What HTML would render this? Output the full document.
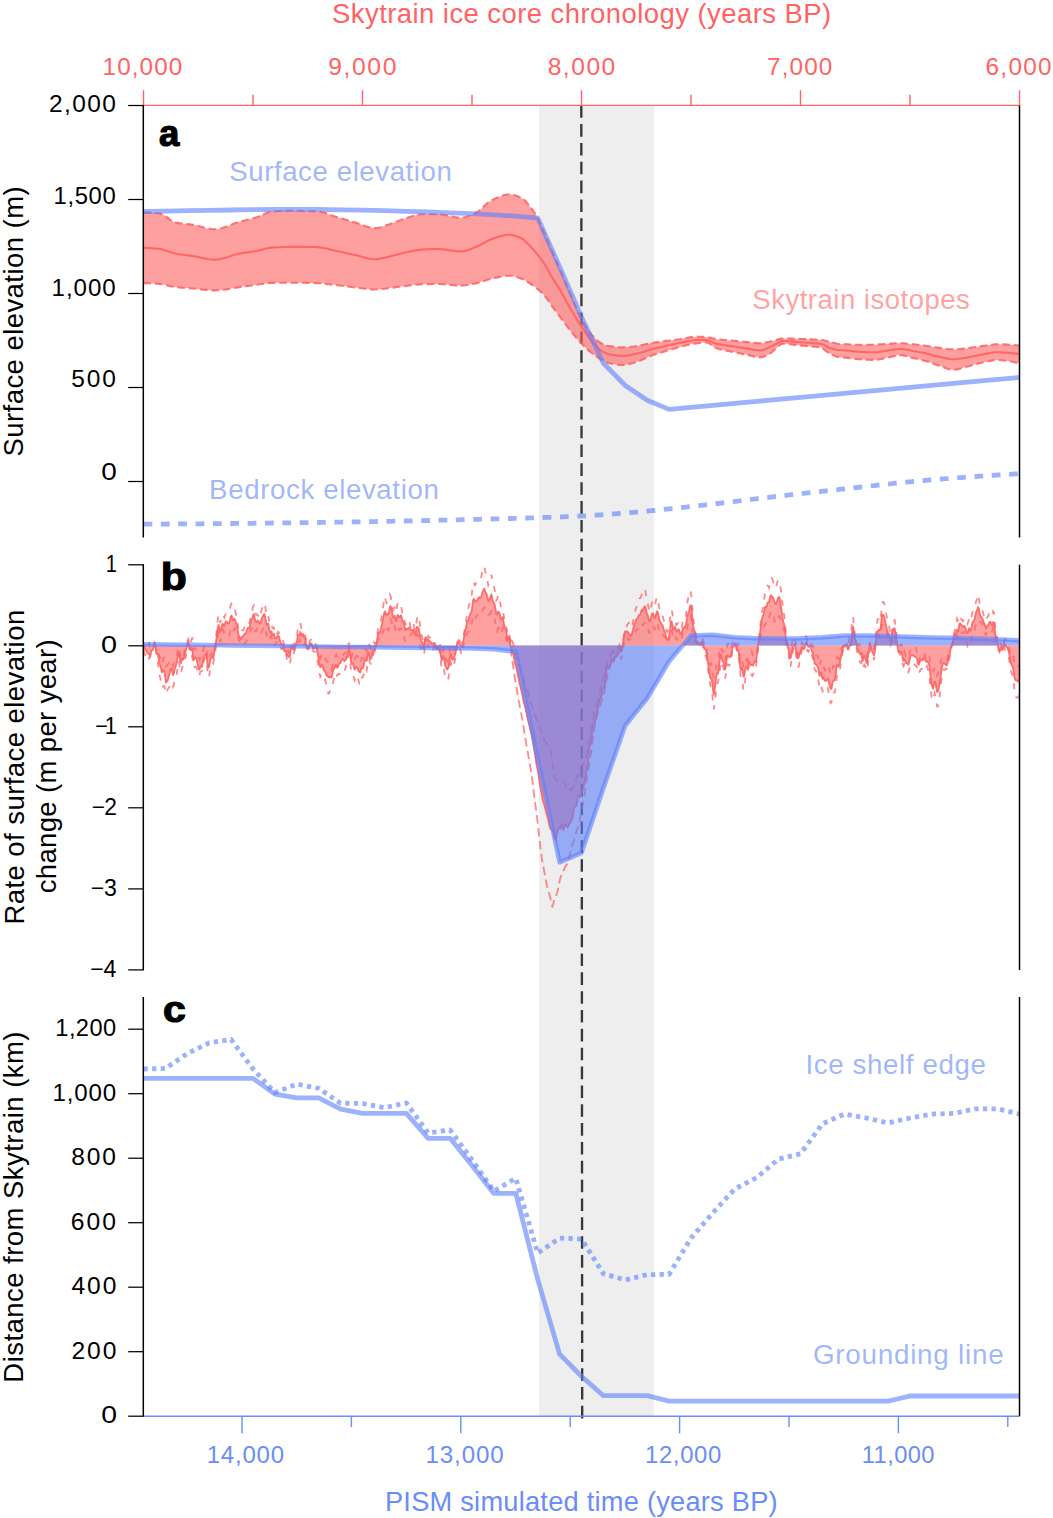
<!DOCTYPE html>
<html lang="en"><head><meta charset="utf-8"><title>Skytrain ice core chronology</title>
<style>html,body{margin:0;padding:0;background:#fff}svg{display:block;font-family:"Liberation Sans",sans-serif}</style></head>
<body><svg width="1053" height="1518" viewBox="0 0 1053 1518">
<rect x="0" y="0" width="1053" height="1518" fill="#fff"/>
<rect x="539.1" y="105.5" width="114.7" height="1310.7" fill="#eeeeee"/>
<line x1="581.3" y1="105.2" x2="582.2" y2="1418.8" stroke="#383838" stroke-width="2.35" stroke-dasharray="12.6 6.25"/>
<polygon points="143.5,212.5 145.5,212.5 147.5,212.6 149.5,212.6 151.5,212.8 153.5,212.9 155.5,213.1 157.5,213.2 159.5,213.4 161.5,213.9 163.5,214.8 165.5,216.2 167.5,217.7 169.5,219.3 171.5,220.8 173.5,221.9 175.5,222.5 177.5,222.9 179.5,223.2 181.5,223.5 183.5,223.7 185.5,223.9 187.5,224.1 189.5,224.3 191.5,224.6 193.5,224.9 195.5,225.3 197.5,225.7 199.5,226.3 201.5,226.8 203.5,227.4 205.5,227.9 207.5,228.4 209.5,228.7 211.5,229.0 213.5,229.2 215.5,229.2 217.5,229.0 219.5,228.7 221.5,228.2 223.5,227.6 225.5,226.9 227.5,226.2 229.5,225.4 231.5,224.6 233.5,223.8 235.5,223.1 237.5,222.4 239.5,221.7 241.5,221.2 243.5,220.7 245.5,220.2 247.5,219.7 249.5,219.3 251.5,218.8 253.5,218.2 255.5,217.6 257.5,216.9 259.5,216.1 261.5,215.2 263.5,214.3 265.5,213.4 267.5,212.6 269.5,212.0 271.5,211.7 273.5,211.5 275.5,211.3 277.5,211.2 279.5,211.0 281.5,210.9 283.5,210.8 285.5,210.8 287.5,210.7 289.5,210.7 291.5,210.7 293.5,210.7 295.5,210.8 297.5,210.8 299.5,210.9 301.5,210.9 303.5,211.0 305.5,211.1 307.5,211.2 309.5,211.2 311.5,211.3 313.5,211.4 315.5,211.5 317.5,211.7 319.5,211.8 321.5,212.1 323.5,212.5 325.5,213.0 327.5,213.7 329.5,214.5 331.5,215.3 333.5,216.0 335.5,216.7 337.5,217.3 339.5,217.9 341.5,218.5 343.5,219.1 345.5,219.7 347.5,220.3 349.5,220.9 351.5,221.5 353.5,222.1 355.5,222.6 357.5,223.3 359.5,224.0 361.5,224.7 363.5,225.5 365.5,226.2 367.5,226.8 369.5,227.4 371.5,227.8 373.5,228.0 375.5,228.1 377.5,227.9 379.5,227.5 381.5,227.0 383.5,226.3 385.5,225.6 387.5,224.8 389.5,224.2 391.5,223.5 393.5,222.8 395.5,222.0 397.5,221.2 399.5,220.4 401.5,219.7 403.5,219.0 405.5,218.4 407.5,217.7 409.5,217.1 411.5,216.5 413.5,215.8 415.5,215.3 417.5,214.8 419.5,214.5 421.5,214.3 423.5,214.2 425.5,214.2 427.5,214.2 429.5,214.2 431.5,214.2 433.5,214.3 435.5,214.3 437.5,214.3 439.5,214.4 441.5,214.5 443.5,214.8 445.5,215.2 447.5,215.6 449.5,216.1 451.5,216.5 453.5,216.9 455.5,217.2 457.5,217.5 459.5,217.7 461.5,217.7 463.5,217.5 465.5,217.0 467.5,216.4 469.5,215.7 471.5,214.8 473.5,213.9 475.5,212.9 477.5,211.9 479.5,210.4 481.5,208.6 483.5,206.7 485.5,204.8 487.5,203.0 489.5,201.5 491.5,200.4 493.5,199.4 495.5,198.4 497.5,197.5 499.5,196.7 501.5,195.9 503.5,195.3 505.5,194.8 507.5,194.5 509.5,194.4 511.5,194.5 513.5,194.9 515.5,195.5 517.5,196.2 519.5,197.0 521.5,198.0 523.5,199.2 525.5,201.1 527.5,203.4 529.5,205.9 531.5,208.4 533.5,211.2 535.5,214.4 537.5,217.9 539.5,222.1 541.5,226.7 543.5,231.5 545.5,236.1 547.5,240.7 549.5,245.3 551.5,249.8 553.5,254.5 555.5,259.1 557.5,263.7 559.5,268.4 561.5,273.1 563.5,277.8 565.5,282.5 567.5,287.2 569.5,291.8 571.5,296.5 573.5,301.3 575.5,306.1 577.5,310.7 579.5,315.1 581.5,319.0 583.5,322.6 585.5,326.1 587.5,329.3 589.5,332.2 591.5,334.7 593.5,336.8 595.5,338.8 597.5,340.6 599.5,342.2 601.5,343.5 603.5,344.4 605.5,345.1 607.5,345.7 609.5,346.1 611.5,346.4 613.5,346.7 615.5,346.9 617.5,347.1 619.5,347.3 621.5,347.4 623.5,347.4 625.5,347.3 627.5,347.1 629.5,347.0 631.5,346.7 633.5,346.5 635.5,346.2 637.5,345.8 639.5,345.4 641.5,345.1 643.5,344.7 645.5,344.3 647.5,343.9 649.5,343.5 651.5,343.1 653.5,342.8 655.5,342.4 657.5,342.0 659.5,341.7 661.5,341.4 663.5,341.2 665.5,340.9 667.5,340.7 669.5,340.5 671.5,340.2 673.5,340.0 675.5,339.7 677.5,339.5 679.5,339.2 681.5,338.8 683.5,338.4 685.5,338.0 687.5,337.7 689.5,337.4 691.5,337.1 693.5,336.9 695.5,336.7 697.5,336.7 699.5,336.7 701.5,336.8 703.5,336.9 705.5,337.0 707.5,337.2 709.5,337.6 711.5,338.0 713.5,338.5 715.5,338.9 717.5,339.2 719.5,339.4 721.5,339.7 723.5,339.9 725.5,340.0 727.5,340.2 729.5,340.4 731.5,340.6 733.5,340.8 735.5,340.9 737.5,341.1 739.5,341.3 741.5,341.5 743.5,341.7 745.5,341.9 747.5,342.1 749.5,342.3 751.5,342.5 753.5,342.7 755.5,342.9 757.5,343.1 759.5,343.2 761.5,343.1 763.5,342.9 765.5,342.5 767.5,342.1 769.5,341.7 771.5,341.2 773.5,340.7 775.5,340.1 777.5,339.6 779.5,338.9 781.5,338.5 783.5,338.4 785.5,338.4 787.5,338.5 789.5,338.5 791.5,338.6 793.5,338.7 795.5,338.8 797.5,338.8 799.5,338.9 801.5,339.0 803.5,339.1 805.5,339.1 807.5,339.2 809.5,339.3 811.5,339.4 813.5,339.5 815.5,339.6 817.5,339.7 819.5,339.8 821.5,340.0 823.5,340.3 825.5,340.8 827.5,341.2 829.5,341.7 831.5,342.2 833.5,342.7 835.5,343.3 837.5,343.7 839.5,344.0 841.5,344.1 843.5,344.2 845.5,344.3 847.5,344.4 849.5,344.5 851.5,344.6 853.5,344.7 855.5,344.7 857.5,344.8 859.5,344.8 861.5,344.8 863.5,344.8 865.5,344.8 867.5,344.8 869.5,344.7 871.5,344.7 873.5,344.7 875.5,344.7 877.5,344.6 879.5,344.4 881.5,344.3 883.5,344.1 885.5,344.0 887.5,343.8 889.5,343.7 891.5,343.6 893.5,343.5 895.5,343.3 897.5,343.3 899.5,343.2 901.5,343.2 903.5,343.3 905.5,343.5 907.5,343.7 909.5,343.9 911.5,344.2 913.5,344.3 915.5,344.5 917.5,344.7 919.5,345.0 921.5,345.2 923.5,345.4 925.5,345.7 927.5,346.0 929.5,346.3 931.5,346.6 933.5,347.0 935.5,347.3 937.5,347.6 939.5,347.9 941.5,348.2 943.5,348.5 945.5,348.7 947.5,349.0 949.5,349.2 951.5,349.3 953.5,349.4 955.5,349.4 957.5,349.2 959.5,349.1 961.5,348.9 963.5,348.6 965.5,348.4 967.5,348.2 969.5,347.9 971.5,347.6 973.5,347.3 975.5,347.0 977.5,346.7 979.5,346.4 981.5,346.1 983.5,345.8 985.5,345.6 987.5,345.3 989.5,345.0 991.5,344.7 993.5,344.5 995.5,344.3 997.5,344.3 999.5,344.3 1001.5,344.4 1003.5,344.4 1005.5,344.5 1007.5,344.6 1009.5,344.7 1011.5,344.8 1013.5,345.0 1015.5,345.2 1017.5,345.4 1019.5,345.6 1019.5,363.3 1017.5,362.8 1015.5,362.4 1013.5,361.9 1011.5,361.5 1009.5,361.2 1007.5,360.9 1005.5,360.7 1003.5,360.4 1001.5,360.2 999.5,360.0 997.5,359.9 995.5,360.0 993.5,360.2 991.5,360.6 989.5,361.0 987.5,361.5 985.5,361.9 983.5,362.3 981.5,362.8 979.5,363.3 977.5,363.8 975.5,364.3 973.5,364.8 971.5,365.4 969.5,366.0 967.5,366.6 965.5,367.1 963.5,367.6 961.5,368.2 959.5,368.8 957.5,369.3 955.5,369.7 953.5,369.8 951.5,369.7 949.5,369.3 947.5,368.7 945.5,368.0 943.5,367.2 941.5,366.5 939.5,365.8 937.5,365.2 935.5,364.5 933.5,363.7 931.5,363.0 929.5,362.2 927.5,361.6 925.5,360.9 923.5,360.4 921.5,359.9 919.5,359.4 917.5,359.0 915.5,358.6 913.5,358.1 911.5,357.7 909.5,357.1 907.5,356.5 905.5,355.9 903.5,355.4 901.5,355.2 899.5,355.1 897.5,355.3 895.5,355.7 893.5,356.2 891.5,356.7 889.5,357.2 887.5,357.6 885.5,358.0 883.5,358.4 881.5,358.9 879.5,359.3 877.5,359.6 875.5,359.8 873.5,359.9 871.5,359.9 869.5,359.8 867.5,359.7 865.5,359.6 863.5,359.5 861.5,359.4 859.5,359.3 857.5,359.1 855.5,358.9 853.5,358.6 851.5,358.4 849.5,358.1 847.5,357.9 845.5,357.6 843.5,357.5 841.5,357.4 839.5,357.2 837.5,356.8 835.5,356.2 833.5,355.4 831.5,354.5 829.5,353.5 827.5,352.2 825.5,350.6 823.5,349.0 821.5,347.8 819.5,347.3 817.5,347.0 815.5,346.8 813.5,346.6 811.5,346.4 809.5,346.2 807.5,346.1 805.5,345.9 803.5,345.8 801.5,345.6 799.5,345.4 797.5,345.1 795.5,344.9 793.5,344.6 791.5,344.4 789.5,344.1 787.5,343.9 785.5,343.8 783.5,343.7 781.5,343.9 779.5,345.2 777.5,347.1 775.5,348.9 773.5,350.7 771.5,352.5 769.5,353.9 767.5,354.9 765.5,355.9 763.5,356.7 761.5,357.2 759.5,357.4 757.5,357.2 755.5,356.8 753.5,356.4 751.5,355.8 749.5,355.4 747.5,355.0 745.5,354.6 743.5,354.1 741.5,353.7 739.5,353.3 737.5,352.8 735.5,352.4 733.5,352.0 731.5,351.6 729.5,351.2 727.5,350.9 725.5,350.5 723.5,350.1 721.5,349.7 719.5,349.2 717.5,348.6 715.5,347.9 713.5,346.7 711.5,345.1 709.5,343.5 707.5,342.5 705.5,342.4 703.5,342.5 701.5,342.7 699.5,342.9 697.5,343.1 695.5,343.4 693.5,343.7 691.5,344.1 689.5,344.5 687.5,345.0 685.5,345.5 683.5,346.0 681.5,346.5 679.5,347.1 677.5,347.6 675.5,348.2 673.5,348.8 671.5,349.4 669.5,350.0 667.5,350.6 665.5,351.2 663.5,351.8 661.5,352.5 659.5,353.1 657.5,353.6 655.5,354.2 653.5,354.8 651.5,355.6 649.5,356.4 647.5,357.3 645.5,358.2 643.5,359.1 641.5,360.0 639.5,360.8 637.5,361.5 635.5,362.2 633.5,362.8 631.5,363.4 629.5,363.9 627.5,364.3 625.5,364.7 623.5,365.0 621.5,365.0 619.5,364.9 617.5,364.7 615.5,364.4 613.5,364.1 611.5,363.7 609.5,363.2 607.5,362.5 605.5,361.6 603.5,360.7 601.5,359.7 599.5,358.6 597.5,357.2 595.5,355.8 593.5,354.3 591.5,352.8 589.5,351.1 587.5,349.4 585.5,347.6 583.5,345.6 581.5,343.6 579.5,341.5 577.5,339.2 575.5,336.8 573.5,334.4 571.5,331.9 569.5,329.4 567.5,326.8 565.5,324.2 563.5,321.6 561.5,318.9 559.5,316.2 557.5,313.5 555.5,310.8 553.5,308.1 551.5,305.3 549.5,302.3 547.5,299.3 545.5,296.6 543.5,294.4 541.5,292.4 539.5,290.6 537.5,288.9 535.5,287.3 533.5,285.8 531.5,284.5 529.5,283.2 527.5,281.9 525.5,280.7 523.5,279.6 521.5,278.8 519.5,278.0 517.5,277.3 515.5,276.7 513.5,276.2 511.5,275.8 509.5,275.7 507.5,275.8 505.5,275.9 503.5,276.2 501.5,276.5 499.5,276.9 497.5,277.4 495.5,277.8 493.5,278.3 491.5,278.7 489.5,279.2 487.5,279.8 485.5,280.4 483.5,281.1 481.5,281.8 479.5,282.4 477.5,283.0 475.5,283.4 473.5,283.8 471.5,284.2 469.5,284.6 467.5,285.0 465.5,285.3 463.5,285.5 461.5,285.6 459.5,285.6 457.5,285.5 455.5,285.4 453.5,285.2 451.5,285.0 449.5,284.8 447.5,284.6 445.5,284.4 443.5,284.2 441.5,284.1 439.5,284.0 437.5,284.0 435.5,284.0 433.5,284.0 431.5,284.0 429.5,284.1 427.5,284.1 425.5,284.1 423.5,284.2 421.5,284.3 419.5,284.4 417.5,284.5 415.5,284.7 413.5,285.0 411.5,285.2 409.5,285.4 407.5,285.7 405.5,285.9 403.5,286.2 401.5,286.4 399.5,286.7 397.5,287.0 395.5,287.3 393.5,287.6 391.5,287.8 389.5,288.1 387.5,288.3 385.5,288.6 383.5,288.8 381.5,289.1 379.5,289.3 377.5,289.4 375.5,289.5 373.5,289.5 371.5,289.4 369.5,289.2 367.5,289.0 365.5,288.8 363.5,288.5 361.5,288.3 359.5,288.0 357.5,287.7 355.5,287.5 353.5,287.2 351.5,287.0 349.5,286.8 347.5,286.5 345.5,286.3 343.5,286.0 341.5,285.8 339.5,285.5 337.5,285.3 335.5,285.1 333.5,284.8 331.5,284.6 329.5,284.3 327.5,284.1 325.5,283.8 323.5,283.6 321.5,283.4 319.5,283.3 317.5,283.2 315.5,283.1 313.5,283.0 311.5,283.0 309.5,282.9 307.5,282.9 305.5,282.8 303.5,282.8 301.5,282.8 299.5,282.8 297.5,282.7 295.5,282.7 293.5,282.7 291.5,282.7 289.5,282.7 287.5,282.7 285.5,282.7 283.5,282.7 281.5,282.7 279.5,282.8 277.5,282.8 275.5,282.8 273.5,282.9 271.5,282.9 269.5,283.0 267.5,283.2 265.5,283.4 263.5,283.7 261.5,284.0 259.5,284.3 257.5,284.7 255.5,284.9 253.5,285.2 251.5,285.5 249.5,285.7 247.5,286.0 245.5,286.3 243.5,286.5 241.5,286.8 239.5,287.1 237.5,287.4 235.5,287.7 233.5,288.0 231.5,288.4 229.5,288.7 227.5,289.1 225.5,289.4 223.5,289.7 221.5,290.0 219.5,290.2 217.5,290.3 215.5,290.4 213.5,290.4 211.5,290.3 209.5,290.2 207.5,290.1 205.5,289.9 203.5,289.7 201.5,289.4 199.5,289.2 197.5,289.0 195.5,288.7 193.5,288.5 191.5,288.4 189.5,288.2 187.5,288.1 185.5,287.9 183.5,287.8 181.5,287.6 179.5,287.5 177.5,287.3 175.5,287.1 173.5,286.8 171.5,286.4 169.5,285.9 167.5,285.4 165.5,285.0 163.5,284.5 161.5,284.2 159.5,284.0 157.5,283.8 155.5,283.6 153.5,283.5 151.5,283.4 149.5,283.3 147.5,283.2 145.5,283.1 143.5,283.1" fill="#ff6060" fill-opacity="0.6"/>
<polyline points="143.5,212.5 145.5,212.5 147.5,212.6 149.5,212.6 151.5,212.8 153.5,212.9 155.5,213.1 157.5,213.2 159.5,213.4 161.5,213.9 163.5,214.8 165.5,216.2 167.5,217.7 169.5,219.3 171.5,220.8 173.5,221.9 175.5,222.5 177.5,222.9 179.5,223.2 181.5,223.5 183.5,223.7 185.5,223.9 187.5,224.1 189.5,224.3 191.5,224.6 193.5,224.9 195.5,225.3 197.5,225.7 199.5,226.3 201.5,226.8 203.5,227.4 205.5,227.9 207.5,228.4 209.5,228.7 211.5,229.0 213.5,229.2 215.5,229.2 217.5,229.0 219.5,228.7 221.5,228.2 223.5,227.6 225.5,226.9 227.5,226.2 229.5,225.4 231.5,224.6 233.5,223.8 235.5,223.1 237.5,222.4 239.5,221.7 241.5,221.2 243.5,220.7 245.5,220.2 247.5,219.7 249.5,219.3 251.5,218.8 253.5,218.2 255.5,217.6 257.5,216.9 259.5,216.1 261.5,215.2 263.5,214.3 265.5,213.4 267.5,212.6 269.5,212.0 271.5,211.7 273.5,211.5 275.5,211.3 277.5,211.2 279.5,211.0 281.5,210.9 283.5,210.8 285.5,210.8 287.5,210.7 289.5,210.7 291.5,210.7 293.5,210.7 295.5,210.8 297.5,210.8 299.5,210.9 301.5,210.9 303.5,211.0 305.5,211.1 307.5,211.2 309.5,211.2 311.5,211.3 313.5,211.4 315.5,211.5 317.5,211.7 319.5,211.8 321.5,212.1 323.5,212.5 325.5,213.0 327.5,213.7 329.5,214.5 331.5,215.3 333.5,216.0 335.5,216.7 337.5,217.3 339.5,217.9 341.5,218.5 343.5,219.1 345.5,219.7 347.5,220.3 349.5,220.9 351.5,221.5 353.5,222.1 355.5,222.6 357.5,223.3 359.5,224.0 361.5,224.7 363.5,225.5 365.5,226.2 367.5,226.8 369.5,227.4 371.5,227.8 373.5,228.0 375.5,228.1 377.5,227.9 379.5,227.5 381.5,227.0 383.5,226.3 385.5,225.6 387.5,224.8 389.5,224.2 391.5,223.5 393.5,222.8 395.5,222.0 397.5,221.2 399.5,220.4 401.5,219.7 403.5,219.0 405.5,218.4 407.5,217.7 409.5,217.1 411.5,216.5 413.5,215.8 415.5,215.3 417.5,214.8 419.5,214.5 421.5,214.3 423.5,214.2 425.5,214.2 427.5,214.2 429.5,214.2 431.5,214.2 433.5,214.3 435.5,214.3 437.5,214.3 439.5,214.4 441.5,214.5 443.5,214.8 445.5,215.2 447.5,215.6 449.5,216.1 451.5,216.5 453.5,216.9 455.5,217.2 457.5,217.5 459.5,217.7 461.5,217.7 463.5,217.5 465.5,217.0 467.5,216.4 469.5,215.7 471.5,214.8 473.5,213.9 475.5,212.9 477.5,211.9 479.5,210.4 481.5,208.6 483.5,206.7 485.5,204.8 487.5,203.0 489.5,201.5 491.5,200.4 493.5,199.4 495.5,198.4 497.5,197.5 499.5,196.7 501.5,195.9 503.5,195.3 505.5,194.8 507.5,194.5 509.5,194.4 511.5,194.5 513.5,194.9 515.5,195.5 517.5,196.2 519.5,197.0 521.5,198.0 523.5,199.2 525.5,201.1 527.5,203.4 529.5,205.9 531.5,208.4 533.5,211.2 535.5,214.4 537.5,217.9 539.5,222.1 541.5,226.7 543.5,231.5 545.5,236.1 547.5,240.7 549.5,245.3 551.5,249.8 553.5,254.5 555.5,259.1 557.5,263.7 559.5,268.4 561.5,273.1 563.5,277.8 565.5,282.5 567.5,287.2 569.5,291.8 571.5,296.5 573.5,301.3 575.5,306.1 577.5,310.7 579.5,315.1 581.5,319.0 583.5,322.6 585.5,326.1 587.5,329.3 589.5,332.2 591.5,334.7 593.5,336.8 595.5,338.8 597.5,340.6 599.5,342.2 601.5,343.5 603.5,344.4 605.5,345.1 607.5,345.7 609.5,346.1 611.5,346.4 613.5,346.7 615.5,346.9 617.5,347.1 619.5,347.3 621.5,347.4 623.5,347.4 625.5,347.3 627.5,347.1 629.5,347.0 631.5,346.7 633.5,346.5 635.5,346.2 637.5,345.8 639.5,345.4 641.5,345.1 643.5,344.7 645.5,344.3 647.5,343.9 649.5,343.5 651.5,343.1 653.5,342.8 655.5,342.4 657.5,342.0 659.5,341.7 661.5,341.4 663.5,341.2 665.5,340.9 667.5,340.7 669.5,340.5 671.5,340.2 673.5,340.0 675.5,339.7 677.5,339.5 679.5,339.2 681.5,338.8 683.5,338.4 685.5,338.0 687.5,337.7 689.5,337.4 691.5,337.1 693.5,336.9 695.5,336.7 697.5,336.7 699.5,336.7 701.5,336.8 703.5,336.9 705.5,337.0 707.5,337.2 709.5,337.6 711.5,338.0 713.5,338.5 715.5,338.9 717.5,339.2 719.5,339.4 721.5,339.7 723.5,339.9 725.5,340.0 727.5,340.2 729.5,340.4 731.5,340.6 733.5,340.8 735.5,340.9 737.5,341.1 739.5,341.3 741.5,341.5 743.5,341.7 745.5,341.9 747.5,342.1 749.5,342.3 751.5,342.5 753.5,342.7 755.5,342.9 757.5,343.1 759.5,343.2 761.5,343.1 763.5,342.9 765.5,342.5 767.5,342.1 769.5,341.7 771.5,341.2 773.5,340.7 775.5,340.1 777.5,339.6 779.5,338.9 781.5,338.5 783.5,338.4 785.5,338.4 787.5,338.5 789.5,338.5 791.5,338.6 793.5,338.7 795.5,338.8 797.5,338.8 799.5,338.9 801.5,339.0 803.5,339.1 805.5,339.1 807.5,339.2 809.5,339.3 811.5,339.4 813.5,339.5 815.5,339.6 817.5,339.7 819.5,339.8 821.5,340.0 823.5,340.3 825.5,340.8 827.5,341.2 829.5,341.7 831.5,342.2 833.5,342.7 835.5,343.3 837.5,343.7 839.5,344.0 841.5,344.1 843.5,344.2 845.5,344.3 847.5,344.4 849.5,344.5 851.5,344.6 853.5,344.7 855.5,344.7 857.5,344.8 859.5,344.8 861.5,344.8 863.5,344.8 865.5,344.8 867.5,344.8 869.5,344.7 871.5,344.7 873.5,344.7 875.5,344.7 877.5,344.6 879.5,344.4 881.5,344.3 883.5,344.1 885.5,344.0 887.5,343.8 889.5,343.7 891.5,343.6 893.5,343.5 895.5,343.3 897.5,343.3 899.5,343.2 901.5,343.2 903.5,343.3 905.5,343.5 907.5,343.7 909.5,343.9 911.5,344.2 913.5,344.3 915.5,344.5 917.5,344.7 919.5,345.0 921.5,345.2 923.5,345.4 925.5,345.7 927.5,346.0 929.5,346.3 931.5,346.6 933.5,347.0 935.5,347.3 937.5,347.6 939.5,347.9 941.5,348.2 943.5,348.5 945.5,348.7 947.5,349.0 949.5,349.2 951.5,349.3 953.5,349.4 955.5,349.4 957.5,349.2 959.5,349.1 961.5,348.9 963.5,348.6 965.5,348.4 967.5,348.2 969.5,347.9 971.5,347.6 973.5,347.3 975.5,347.0 977.5,346.7 979.5,346.4 981.5,346.1 983.5,345.8 985.5,345.6 987.5,345.3 989.5,345.0 991.5,344.7 993.5,344.5 995.5,344.3 997.5,344.3 999.5,344.3 1001.5,344.4 1003.5,344.4 1005.5,344.5 1007.5,344.6 1009.5,344.7 1011.5,344.8 1013.5,345.0 1015.5,345.2 1017.5,345.4 1019.5,345.6" fill="none" stroke="#ff6060" stroke-opacity=".85" stroke-width="2.1" stroke-dasharray="7.6 3.8"/>
<polyline points="143.5,283.1 145.5,283.1 147.5,283.2 149.5,283.3 151.5,283.4 153.5,283.5 155.5,283.6 157.5,283.8 159.5,284.0 161.5,284.2 163.5,284.5 165.5,285.0 167.5,285.4 169.5,285.9 171.5,286.4 173.5,286.8 175.5,287.1 177.5,287.3 179.5,287.5 181.5,287.6 183.5,287.8 185.5,287.9 187.5,288.1 189.5,288.2 191.5,288.4 193.5,288.5 195.5,288.7 197.5,289.0 199.5,289.2 201.5,289.4 203.5,289.7 205.5,289.9 207.5,290.1 209.5,290.2 211.5,290.3 213.5,290.4 215.5,290.4 217.5,290.3 219.5,290.2 221.5,290.0 223.5,289.7 225.5,289.4 227.5,289.1 229.5,288.7 231.5,288.4 233.5,288.0 235.5,287.7 237.5,287.4 239.5,287.1 241.5,286.8 243.5,286.5 245.5,286.3 247.5,286.0 249.5,285.7 251.5,285.5 253.5,285.2 255.5,284.9 257.5,284.7 259.5,284.3 261.5,284.0 263.5,283.7 265.5,283.4 267.5,283.2 269.5,283.0 271.5,282.9 273.5,282.9 275.5,282.8 277.5,282.8 279.5,282.8 281.5,282.7 283.5,282.7 285.5,282.7 287.5,282.7 289.5,282.7 291.5,282.7 293.5,282.7 295.5,282.7 297.5,282.7 299.5,282.8 301.5,282.8 303.5,282.8 305.5,282.8 307.5,282.9 309.5,282.9 311.5,283.0 313.5,283.0 315.5,283.1 317.5,283.2 319.5,283.3 321.5,283.4 323.5,283.6 325.5,283.8 327.5,284.1 329.5,284.3 331.5,284.6 333.5,284.8 335.5,285.1 337.5,285.3 339.5,285.5 341.5,285.8 343.5,286.0 345.5,286.3 347.5,286.5 349.5,286.8 351.5,287.0 353.5,287.2 355.5,287.5 357.5,287.7 359.5,288.0 361.5,288.3 363.5,288.5 365.5,288.8 367.5,289.0 369.5,289.2 371.5,289.4 373.5,289.5 375.5,289.5 377.5,289.4 379.5,289.3 381.5,289.1 383.5,288.8 385.5,288.6 387.5,288.3 389.5,288.1 391.5,287.8 393.5,287.6 395.5,287.3 397.5,287.0 399.5,286.7 401.5,286.4 403.5,286.2 405.5,285.9 407.5,285.7 409.5,285.4 411.5,285.2 413.5,285.0 415.5,284.7 417.5,284.5 419.5,284.4 421.5,284.3 423.5,284.2 425.5,284.1 427.5,284.1 429.5,284.1 431.5,284.0 433.5,284.0 435.5,284.0 437.5,284.0 439.5,284.0 441.5,284.1 443.5,284.2 445.5,284.4 447.5,284.6 449.5,284.8 451.5,285.0 453.5,285.2 455.5,285.4 457.5,285.5 459.5,285.6 461.5,285.6 463.5,285.5 465.5,285.3 467.5,285.0 469.5,284.6 471.5,284.2 473.5,283.8 475.5,283.4 477.5,283.0 479.5,282.4 481.5,281.8 483.5,281.1 485.5,280.4 487.5,279.8 489.5,279.2 491.5,278.7 493.5,278.3 495.5,277.8 497.5,277.4 499.5,276.9 501.5,276.5 503.5,276.2 505.5,275.9 507.5,275.8 509.5,275.7 511.5,275.8 513.5,276.2 515.5,276.7 517.5,277.3 519.5,278.0 521.5,278.8 523.5,279.6 525.5,280.7 527.5,281.9 529.5,283.2 531.5,284.5 533.5,285.8 535.5,287.3 537.5,288.9 539.5,290.6 541.5,292.4 543.5,294.4 545.5,296.6 547.5,299.3 549.5,302.3 551.5,305.3 553.5,308.1 555.5,310.8 557.5,313.5 559.5,316.2 561.5,318.9 563.5,321.6 565.5,324.2 567.5,326.8 569.5,329.4 571.5,331.9 573.5,334.4 575.5,336.8 577.5,339.2 579.5,341.5 581.5,343.6 583.5,345.6 585.5,347.6 587.5,349.4 589.5,351.1 591.5,352.8 593.5,354.3 595.5,355.8 597.5,357.2 599.5,358.6 601.5,359.7 603.5,360.7 605.5,361.6 607.5,362.5 609.5,363.2 611.5,363.7 613.5,364.1 615.5,364.4 617.5,364.7 619.5,364.9 621.5,365.0 623.5,365.0 625.5,364.7 627.5,364.3 629.5,363.9 631.5,363.4 633.5,362.8 635.5,362.2 637.5,361.5 639.5,360.8 641.5,360.0 643.5,359.1 645.5,358.2 647.5,357.3 649.5,356.4 651.5,355.6 653.5,354.8 655.5,354.2 657.5,353.6 659.5,353.1 661.5,352.5 663.5,351.8 665.5,351.2 667.5,350.6 669.5,350.0 671.5,349.4 673.5,348.8 675.5,348.2 677.5,347.6 679.5,347.1 681.5,346.5 683.5,346.0 685.5,345.5 687.5,345.0 689.5,344.5 691.5,344.1 693.5,343.7 695.5,343.4 697.5,343.1 699.5,342.9 701.5,342.7 703.5,342.5 705.5,342.4 707.5,342.5 709.5,343.5 711.5,345.1 713.5,346.7 715.5,347.9 717.5,348.6 719.5,349.2 721.5,349.7 723.5,350.1 725.5,350.5 727.5,350.9 729.5,351.2 731.5,351.6 733.5,352.0 735.5,352.4 737.5,352.8 739.5,353.3 741.5,353.7 743.5,354.1 745.5,354.6 747.5,355.0 749.5,355.4 751.5,355.8 753.5,356.4 755.5,356.8 757.5,357.2 759.5,357.4 761.5,357.2 763.5,356.7 765.5,355.9 767.5,354.9 769.5,353.9 771.5,352.5 773.5,350.7 775.5,348.9 777.5,347.1 779.5,345.2 781.5,343.9 783.5,343.7 785.5,343.8 787.5,343.9 789.5,344.1 791.5,344.4 793.5,344.6 795.5,344.9 797.5,345.1 799.5,345.4 801.5,345.6 803.5,345.8 805.5,345.9 807.5,346.1 809.5,346.2 811.5,346.4 813.5,346.6 815.5,346.8 817.5,347.0 819.5,347.3 821.5,347.8 823.5,349.0 825.5,350.6 827.5,352.2 829.5,353.5 831.5,354.5 833.5,355.4 835.5,356.2 837.5,356.8 839.5,357.2 841.5,357.4 843.5,357.5 845.5,357.6 847.5,357.9 849.5,358.1 851.5,358.4 853.5,358.6 855.5,358.9 857.5,359.1 859.5,359.3 861.5,359.4 863.5,359.5 865.5,359.6 867.5,359.7 869.5,359.8 871.5,359.9 873.5,359.9 875.5,359.8 877.5,359.6 879.5,359.3 881.5,358.9 883.5,358.4 885.5,358.0 887.5,357.6 889.5,357.2 891.5,356.7 893.5,356.2 895.5,355.7 897.5,355.3 899.5,355.1 901.5,355.2 903.5,355.4 905.5,355.9 907.5,356.5 909.5,357.1 911.5,357.7 913.5,358.1 915.5,358.6 917.5,359.0 919.5,359.4 921.5,359.9 923.5,360.4 925.5,360.9 927.5,361.6 929.5,362.2 931.5,363.0 933.5,363.7 935.5,364.5 937.5,365.2 939.5,365.8 941.5,366.5 943.5,367.2 945.5,368.0 947.5,368.7 949.5,369.3 951.5,369.7 953.5,369.8 955.5,369.7 957.5,369.3 959.5,368.8 961.5,368.2 963.5,367.6 965.5,367.1 967.5,366.6 969.5,366.0 971.5,365.4 973.5,364.8 975.5,364.3 977.5,363.8 979.5,363.3 981.5,362.8 983.5,362.3 985.5,361.9 987.5,361.5 989.5,361.0 991.5,360.6 993.5,360.2 995.5,360.0 997.5,359.9 999.5,360.0 1001.5,360.2 1003.5,360.4 1005.5,360.7 1007.5,360.9 1009.5,361.2 1011.5,361.5 1013.5,361.9 1015.5,362.4 1017.5,362.8 1019.5,363.3" fill="none" stroke="#ff6060" stroke-opacity=".85" stroke-width="2.1" stroke-dasharray="7.6 3.8"/>
<polyline points="143.5,247.9 145.5,247.9 147.5,248.0 149.5,248.1 151.5,248.2 153.5,248.4 155.5,248.5 157.5,248.7 159.5,248.9 161.5,249.2 163.5,249.7 165.5,250.4 167.5,251.1 169.5,251.8 171.5,252.5 173.5,253.1 175.5,253.6 177.5,254.0 179.5,254.3 181.5,254.6 183.5,254.8 185.5,255.1 187.5,255.3 189.5,255.6 191.5,255.9 193.5,256.2 195.5,256.5 197.5,256.9 199.5,257.3 201.5,257.8 203.5,258.2 205.5,258.6 207.5,259.0 209.5,259.3 211.5,259.5 213.5,259.6 215.5,259.6 217.5,259.4 219.5,259.1 221.5,258.7 223.5,258.2 225.5,257.7 227.5,257.1 229.5,256.4 231.5,255.8 233.5,255.1 235.5,254.6 237.5,254.0 239.5,253.6 241.5,253.2 243.5,252.9 245.5,252.6 247.5,252.3 249.5,252.1 251.5,251.8 253.5,251.5 255.5,251.1 257.5,250.7 259.5,250.2 261.5,249.7 263.5,249.2 265.5,248.7 267.5,248.2 269.5,247.9 271.5,247.6 273.5,247.5 275.5,247.4 277.5,247.3 279.5,247.2 281.5,247.1 283.5,247.0 285.5,247.0 287.5,246.9 289.5,246.9 291.5,246.9 293.5,246.9 295.5,246.9 297.5,246.9 299.5,246.9 301.5,246.9 303.5,246.9 305.5,246.9 307.5,247.0 309.5,247.0 311.5,247.0 313.5,247.0 315.5,247.1 317.5,247.2 319.5,247.4 321.5,247.7 323.5,248.0 325.5,248.3 327.5,248.8 329.5,249.3 331.5,249.8 333.5,250.3 335.5,250.7 337.5,251.1 339.5,251.6 341.5,252.0 343.5,252.5 345.5,252.9 347.5,253.4 349.5,253.8 351.5,254.2 353.5,254.7 355.5,255.1 357.5,255.6 359.5,256.1 361.5,256.7 363.5,257.2 365.5,257.8 367.5,258.2 369.5,258.7 371.5,259.0 373.5,259.2 375.5,259.2 377.5,259.1 379.5,258.8 381.5,258.4 383.5,257.9 385.5,257.4 387.5,256.9 389.5,256.4 391.5,256.0 393.5,255.5 395.5,255.0 397.5,254.4 399.5,253.9 401.5,253.4 403.5,252.9 405.5,252.5 407.5,252.1 409.5,251.6 411.5,251.2 413.5,250.8 415.5,250.4 417.5,250.1 419.5,249.8 421.5,249.6 423.5,249.5 425.5,249.4 427.5,249.3 429.5,249.2 431.5,249.1 433.5,249.1 435.5,249.0 437.5,249.0 439.5,249.0 441.5,249.2 443.5,249.4 445.5,249.6 447.5,249.9 449.5,250.2 451.5,250.5 453.5,250.8 455.5,251.1 457.5,251.3 459.5,251.4 461.5,251.4 463.5,251.2 465.5,250.7 467.5,250.2 469.5,249.5 471.5,248.7 473.5,247.9 475.5,247.1 477.5,246.3 479.5,245.3 481.5,244.2 483.5,243.1 485.5,242.0 487.5,240.9 489.5,240.0 491.5,239.2 493.5,238.5 495.5,237.8 497.5,237.1 499.5,236.5 501.5,235.9 503.5,235.4 505.5,235.0 507.5,234.8 509.5,234.7 511.5,234.9 513.5,235.3 515.5,235.9 517.5,236.6 519.5,237.5 521.5,238.5 523.5,239.7 525.5,241.4 527.5,243.4 529.5,245.5 531.5,247.6 533.5,249.8 535.5,252.2 537.5,254.6 539.5,257.2 541.5,259.9 543.5,262.7 545.5,265.8 547.5,269.2 549.5,272.9 551.5,276.5 553.5,279.7 555.5,282.7 557.5,285.7 559.5,288.9 561.5,292.4 563.5,296.0 565.5,299.8 567.5,303.5 569.5,307.1 571.5,310.5 573.5,313.9 575.5,317.1 577.5,320.3 579.5,323.5 581.5,326.5 583.5,329.5 585.5,332.5 587.5,335.4 589.5,338.2 591.5,340.7 593.5,343.0 595.5,345.3 597.5,347.4 599.5,349.4 601.5,351.0 603.5,352.1 605.5,353.0 607.5,353.7 609.5,354.3 611.5,354.7 613.5,355.0 615.5,355.3 617.5,355.6 619.5,355.8 621.5,355.9 623.5,355.9 625.5,355.7 627.5,355.5 629.5,355.2 631.5,354.9 633.5,354.5 635.5,354.1 637.5,353.6 639.5,353.1 641.5,352.5 643.5,351.9 645.5,351.3 647.5,350.6 649.5,350.0 651.5,349.3 653.5,348.8 655.5,348.3 657.5,347.8 659.5,347.4 661.5,346.9 663.5,346.5 665.5,346.0 667.5,345.5 669.5,345.1 671.5,344.6 673.5,344.2 675.5,343.7 677.5,343.3 679.5,342.9 681.5,342.5 683.5,342.1 685.5,341.8 687.5,341.4 689.5,341.0 691.5,340.7 693.5,340.3 695.5,340.0 697.5,339.9 699.5,339.9 701.5,339.9 703.5,339.9 705.5,340.0 707.5,340.1 709.5,340.8 711.5,341.7 713.5,342.8 715.5,343.6 717.5,344.0 719.5,344.4 721.5,344.8 723.5,345.1 725.5,345.3 727.5,345.6 729.5,345.8 731.5,346.1 733.5,346.4 735.5,346.7 737.5,347.0 739.5,347.3 741.5,347.6 743.5,348.0 745.5,348.3 747.5,348.6 749.5,348.9 751.5,349.3 753.5,349.6 755.5,350.0 757.5,350.3 759.5,350.4 761.5,350.2 763.5,349.7 765.5,349.0 767.5,348.1 769.5,347.3 771.5,346.4 773.5,345.3 775.5,344.3 777.5,343.1 779.5,341.9 781.5,341.0 783.5,340.9 785.5,341.0 787.5,341.1 789.5,341.3 791.5,341.4 793.5,341.6 795.5,341.9 797.5,342.1 799.5,342.2 801.5,342.4 803.5,342.5 805.5,342.7 807.5,342.7 809.5,342.8 811.5,342.9 813.5,343.1 815.5,343.2 817.5,343.4 819.5,343.6 821.5,343.9 823.5,344.8 825.5,345.9 827.5,347.0 829.5,347.9 831.5,348.5 833.5,349.1 835.5,349.6 837.5,350.0 839.5,350.2 841.5,350.3 843.5,350.3 845.5,350.4 847.5,350.6 849.5,350.8 851.5,351.0 853.5,351.2 855.5,351.4 857.5,351.6 859.5,351.8 861.5,351.9 863.5,352.0 865.5,352.1 867.5,352.2 869.5,352.2 871.5,352.3 873.5,352.3 875.5,352.2 877.5,352.1 879.5,351.8 881.5,351.5 883.5,351.2 885.5,350.9 887.5,350.6 889.5,350.3 891.5,350.0 893.5,349.6 895.5,349.3 897.5,349.0 899.5,348.9 901.5,348.9 903.5,349.1 905.5,349.5 907.5,349.9 909.5,350.3 911.5,350.7 913.5,351.1 915.5,351.4 917.5,351.8 919.5,352.1 921.5,352.5 923.5,352.9 925.5,353.3 927.5,353.8 929.5,354.3 931.5,354.8 933.5,355.4 935.5,355.9 937.5,356.4 939.5,356.9 941.5,357.3 943.5,357.8 945.5,358.2 947.5,358.6 949.5,359.0 951.5,359.2 953.5,359.3 955.5,359.2 957.5,359.0 959.5,358.7 961.5,358.4 963.5,358.1 965.5,357.8 967.5,357.4 969.5,357.0 971.5,356.6 973.5,356.3 975.5,355.9 977.5,355.5 979.5,355.0 981.5,354.6 983.5,354.2 985.5,353.9 987.5,353.5 989.5,353.2 991.5,352.8 993.5,352.5 995.5,352.3 997.5,352.3 999.5,352.3 1001.5,352.4 1003.5,352.5 1005.5,352.6 1007.5,352.8 1009.5,352.9 1011.5,353.1 1013.5,353.3 1015.5,353.6 1017.5,353.9 1019.5,354.2" fill="none" stroke="#ff6060" stroke-opacity=".9" stroke-width="2.1"/>
<polyline points="143.5,211.5 165.4,211.1 187.3,210.7 209.2,210.3 231.1,210.0 253.0,209.7 274.9,209.5 296.8,209.4 318.7,209.5 340.6,209.8 362.5,210.2 384.4,210.7 406.3,211.3 428.2,212.0 450.1,212.8 472.0,213.7 493.9,214.8 515.8,216.2 537.7,218.0 559.6,266.7 581.5,317.0 603.4,363.2 625.3,385.5 647.2,400.3 669.1,409.4 691.0,407.4 712.9,405.4 734.8,403.4 756.7,401.4 778.6,399.4 800.5,397.4 822.4,395.4 844.3,393.4 866.2,391.4 888.1,389.4 910.0,387.4 931.9,385.4 953.8,383.4 975.7,381.4 997.6,379.4 1019.5,377.4" fill="none" stroke="#5c7ffc" stroke-opacity=".6" stroke-width="4.8" stroke-linejoin="round"/>
<polyline points="143.5,524.2 145.5,524.2 147.5,524.2 149.5,524.2 151.5,524.1 153.5,524.1 155.5,524.1 157.5,524.1 159.5,524.1 161.5,524.1 163.5,524.1 165.5,524.1 167.5,524.0 169.5,524.0 171.5,524.0 173.5,524.0 175.5,524.0 177.5,524.0 179.5,523.9 181.5,523.9 183.5,523.9 185.5,523.9 187.5,523.9 189.5,523.9 191.5,523.8 193.5,523.8 195.5,523.8 197.5,523.8 199.5,523.8 201.5,523.8 203.5,523.7 205.5,523.7 207.5,523.7 209.5,523.7 211.5,523.7 213.5,523.7 215.5,523.6 217.5,523.6 219.5,523.6 221.5,523.6 223.5,523.6 225.5,523.5 227.5,523.5 229.5,523.5 231.5,523.5 233.5,523.5 235.5,523.4 237.5,523.4 239.5,523.4 241.5,523.4 243.5,523.4 245.5,523.3 247.5,523.3 249.5,523.3 251.5,523.3 253.5,523.3 255.5,523.2 257.5,523.2 259.5,523.2 261.5,523.2 263.5,523.2 265.5,523.1 267.5,523.1 269.5,523.1 271.5,523.1 273.5,523.0 275.5,523.0 277.5,523.0 279.5,523.0 281.5,522.9 283.5,522.9 285.5,522.9 287.5,522.9 289.5,522.9 291.5,522.8 293.5,522.8 295.5,522.8 297.5,522.8 299.5,522.7 301.5,522.7 303.5,522.7 305.5,522.6 307.5,522.6 309.5,522.6 311.5,522.6 313.5,522.5 315.5,522.5 317.5,522.5 319.5,522.5 321.5,522.4 323.5,522.4 325.5,522.4 327.5,522.3 329.5,522.3 331.5,522.3 333.5,522.3 335.5,522.2 337.5,522.2 339.5,522.2 341.5,522.1 343.5,522.1 345.5,522.1 347.5,522.0 349.5,522.0 351.5,522.0 353.5,521.9 355.5,521.9 357.5,521.9 359.5,521.8 361.5,521.8 363.5,521.8 365.5,521.7 367.5,521.7 369.5,521.7 371.5,521.6 373.5,521.6 375.5,521.6 377.5,521.5 379.5,521.5 381.5,521.5 383.5,521.4 385.5,521.4 387.5,521.3 389.5,521.3 391.5,521.3 393.5,521.2 395.5,521.2 397.5,521.1 399.5,521.1 401.5,521.1 403.5,521.0 405.5,521.0 407.5,520.9 409.5,520.9 411.5,520.9 413.5,520.8 415.5,520.8 417.5,520.7 419.5,520.7 421.5,520.6 423.5,520.6 425.5,520.5 427.5,520.5 429.5,520.5 431.5,520.4 433.5,520.4 435.5,520.3 437.5,520.3 439.5,520.2 441.5,520.2 443.5,520.1 445.5,520.1 447.5,520.1 449.5,520.0 451.5,520.0 453.5,519.9 455.5,519.9 457.5,519.8 459.5,519.8 461.5,519.7 463.5,519.7 465.5,519.6 467.5,519.6 469.5,519.5 471.5,519.5 473.5,519.4 475.5,519.4 477.5,519.3 479.5,519.3 481.5,519.2 483.5,519.2 485.5,519.1 487.5,519.1 489.5,519.0 491.5,519.0 493.5,518.9 495.5,518.9 497.5,518.8 499.5,518.8 501.5,518.7 503.5,518.7 505.5,518.6 507.5,518.6 509.5,518.5 511.5,518.5 513.5,518.4 515.5,518.3 517.5,518.3 519.5,518.2 521.5,518.2 523.5,518.1 525.5,518.1 527.5,518.0 529.5,517.9 531.5,517.9 533.5,517.8 535.5,517.7 537.5,517.7 539.5,517.6 541.5,517.6 543.5,517.5 545.5,517.4 547.5,517.4 549.5,517.3 551.5,517.2 553.5,517.2 555.5,517.1 557.5,517.0 559.5,516.9 561.5,516.9 563.5,516.8 565.5,516.7 567.5,516.6 569.5,516.5 571.5,516.5 573.5,516.4 575.5,516.3 577.5,516.2 579.5,516.1 581.5,516.0 583.5,515.9 585.5,515.8 587.5,515.7 589.5,515.6 591.5,515.4 593.5,515.3 595.5,515.2 597.5,515.1 599.5,514.9 601.5,514.8 603.5,514.7 605.5,514.5 607.5,514.4 609.5,514.2 611.5,514.1 613.5,513.9 615.5,513.8 617.5,513.6 619.5,513.4 621.5,513.3 623.5,513.1 625.5,513.0 627.5,512.8 629.5,512.6 631.5,512.5 633.5,512.3 635.5,512.1 637.5,512.0 639.5,511.8 641.5,511.6 643.5,511.4 645.5,511.2 647.5,511.0 649.5,510.8 651.5,510.7 653.5,510.5 655.5,510.3 657.5,510.1 659.5,509.9 661.5,509.6 663.5,509.4 665.5,509.2 667.5,509.0 669.5,508.8 671.5,508.6 673.5,508.4 675.5,508.2 677.5,508.0 679.5,507.7 681.5,507.5 683.5,507.3 685.5,507.1 687.5,506.9 689.5,506.6 691.5,506.4 693.5,506.2 695.5,506.0 697.5,505.8 699.5,505.6 701.5,505.3 703.5,505.1 705.5,504.9 707.5,504.7 709.5,504.4 711.5,504.2 713.5,504.0 715.5,503.8 717.5,503.5 719.5,503.3 721.5,503.0 723.5,502.8 725.5,502.6 727.5,502.3 729.5,502.1 731.5,501.9 733.5,501.6 735.5,501.4 737.5,501.1 739.5,500.9 741.5,500.6 743.5,500.4 745.5,500.2 747.5,499.9 749.5,499.7 751.5,499.4 753.5,499.2 755.5,498.9 757.5,498.7 759.5,498.5 761.5,498.2 763.5,498.0 765.5,497.7 767.5,497.5 769.5,497.2 771.5,497.0 773.5,496.8 775.5,496.5 777.5,496.3 779.5,496.1 781.5,495.8 783.5,495.6 785.5,495.4 787.5,495.2 789.5,494.9 791.5,494.7 793.5,494.5 795.5,494.3 797.5,494.0 799.5,493.8 801.5,493.6 803.5,493.4 805.5,493.2 807.5,492.9 809.5,492.7 811.5,492.5 813.5,492.3 815.5,492.1 817.5,491.8 819.5,491.6 821.5,491.4 823.5,491.2 825.5,491.0 827.5,490.7 829.5,490.5 831.5,490.3 833.5,490.1 835.5,489.9 837.5,489.7 839.5,489.4 841.5,489.2 843.5,489.0 845.5,488.8 847.5,488.6 849.5,488.4 851.5,488.1 853.5,487.9 855.5,487.7 857.5,487.5 859.5,487.2 861.5,487.0 863.5,486.8 865.5,486.6 867.5,486.3 869.5,486.1 871.5,485.9 873.5,485.7 875.5,485.4 877.5,485.2 879.5,485.0 881.5,484.8 883.5,484.5 885.5,484.3 887.5,484.1 889.5,483.9 891.5,483.7 893.5,483.4 895.5,483.2 897.5,483.0 899.5,482.8 901.5,482.6 903.5,482.4 905.5,482.2 907.5,482.0 909.5,481.8 911.5,481.7 913.5,481.5 915.5,481.3 917.5,481.1 919.5,480.9 921.5,480.7 923.5,480.6 925.5,480.4 927.5,480.2 929.5,480.0 931.5,479.9 933.5,479.7 935.5,479.5 937.5,479.4 939.5,479.2 941.5,479.0 943.5,478.9 945.5,478.7 947.5,478.6 949.5,478.4 951.5,478.2 953.5,478.1 955.5,477.9 957.5,477.8 959.5,477.6 961.5,477.5 963.5,477.3 965.5,477.2 967.5,477.1 969.5,476.9 971.5,476.8 973.5,476.6 975.5,476.5 977.5,476.3 979.5,476.2 981.5,476.1 983.5,475.9 985.5,475.8 987.5,475.7 989.5,475.5 991.5,475.4 993.5,475.3 995.5,475.1 997.5,475.0 999.5,474.9 1001.5,474.8 1003.5,474.6 1005.5,474.5 1007.5,474.4 1009.5,474.3 1011.5,474.2 1013.5,474.0 1015.5,473.9 1017.5,473.8 1019.5,473.7" fill="none" stroke="#5c7ffc" stroke-opacity=".6" stroke-width="4.8" stroke-dasharray="8.75 8.61"/>
<polygon points="143.5,645.5 143.5,645.4 144.3,647.8 145.1,649.4 145.9,650.6 146.7,651.4 147.5,653.5 148.3,653.9 149.1,653.8 149.9,656.0 150.7,653.9 151.5,650.7 152.3,650.2 153.1,649.3 153.9,646.4 154.7,643.7 155.5,646.6 156.3,651.8 157.1,654.4 157.9,655.0 158.7,658.4 159.5,663.6 160.3,665.1 161.1,668.8 161.9,672.4 162.7,670.5 163.5,669.9 164.3,671.8 165.1,676.4 165.9,682.7 166.7,681.6 167.5,680.5 168.3,678.6 169.1,675.2 169.9,672.4 170.7,668.9 171.5,668.5 172.3,671.4 173.1,675.2 173.9,673.2 174.7,669.1 175.5,666.9 176.3,664.5 177.1,661.2 177.9,655.8 178.7,652.5 179.5,655.2 180.3,661.6 181.1,663.1 181.9,659.1 182.7,658.7 183.5,659.5 184.3,656.2 185.1,652.9 185.9,650.3 186.7,647.0 187.5,643.2 188.3,641.8 189.1,645.5 189.9,649.2 190.7,650.4 191.5,647.9 192.3,649.0 193.1,656.2 193.9,660.0 194.7,658.2 195.5,657.3 196.3,658.8 197.1,662.1 197.9,665.6 198.7,669.4 199.5,669.5 200.3,666.7 201.1,666.4 201.9,666.7 202.7,663.0 203.5,658.1 204.3,656.0 205.1,654.6 205.9,653.9 206.7,656.7 207.5,663.8 208.3,667.6 209.1,667.0 209.9,661.9 210.7,659.0 211.5,656.9 212.3,657.3 213.1,658.3 213.9,654.9 214.7,649.5 215.5,644.8 216.3,640.0 217.1,633.4 217.9,627.2 218.7,624.8 219.5,629.3 220.3,632.2 221.1,629.1 221.9,625.2 222.7,623.8 223.5,625.0 224.3,625.8 225.1,623.3 225.9,621.2 226.7,621.8 227.5,622.8 228.3,623.7 229.1,623.2 229.9,621.0 230.7,616.7 231.5,615.6 232.3,618.2 233.1,620.5 233.9,619.1 234.7,618.7 235.5,621.5 236.3,623.3 237.1,626.0 237.9,631.6 238.7,636.1 239.5,636.2 240.3,639.2 241.1,639.2 241.9,637.5 242.7,636.3 243.5,635.7 244.3,633.9 245.1,633.7 245.9,633.2 246.7,630.5 247.5,628.2 248.3,627.8 249.1,628.2 249.9,626.6 250.7,621.7 251.5,619.8 252.3,618.7 253.1,614.9 253.9,614.2 254.7,618.6 255.5,621.0 256.3,622.3 257.1,621.1 257.9,620.4 258.7,622.1 259.5,623.8 260.3,622.6 261.1,620.7 261.9,618.4 262.7,616.6 263.5,615.1 264.3,613.9 265.1,616.4 265.9,621.2 266.7,624.9 267.5,624.0 268.3,623.6 269.1,628.8 269.9,632.4 270.7,631.7 271.5,631.2 272.3,635.0 273.1,635.2 273.9,633.8 274.7,637.1 275.5,638.3 276.3,637.5 277.1,637.0 277.9,635.6 278.7,636.1 279.5,638.8 280.3,641.8 281.1,644.0 281.9,644.1 282.7,644.1 283.5,648.0 284.3,651.4 285.1,650.7 285.9,651.2 286.7,654.2 287.5,655.8 288.3,656.3 289.1,657.1 289.9,655.7 290.7,649.9 291.5,645.5 292.3,647.4 293.1,649.7 293.9,649.8 294.7,648.8 295.5,645.2 296.3,643.2 297.1,640.9 297.9,635.4 298.7,634.9 299.5,635.0 300.3,632.0 301.1,633.9 301.9,635.9 302.7,634.0 303.5,634.7 304.3,637.4 305.1,638.5 305.9,643.1 306.7,647.4 307.5,649.3 308.3,648.8 309.1,646.8 309.9,644.7 310.7,643.4 311.5,643.6 312.3,646.4 313.1,648.2 313.9,648.4 314.7,648.1 315.5,646.9 316.3,647.6 317.1,650.9 317.9,655.2 318.7,659.7 319.5,664.4 320.3,667.3 321.1,666.0 321.9,664.8 322.7,666.1 323.5,669.7 324.3,671.0 325.1,671.2 325.9,673.9 326.7,675.8 327.5,675.7 328.3,676.9 329.1,677.5 329.9,676.7 330.7,677.1 331.5,677.5 332.3,674.5 333.1,670.3 333.9,668.9 334.7,668.1 335.5,665.1 336.3,665.0 337.1,667.7 337.9,667.0 338.7,664.5 339.5,663.3 340.3,663.2 341.1,661.0 341.9,659.0 342.7,658.6 343.5,660.3 344.3,661.2 345.1,660.4 345.9,659.6 346.7,658.3 347.5,655.5 348.3,650.5 349.1,648.2 349.9,652.9 350.7,659.7 351.5,663.8 352.3,663.6 353.1,663.1 353.9,667.7 354.7,669.7 355.5,667.6 356.3,667.0 357.1,667.9 357.9,669.2 358.7,671.2 359.5,672.2 360.3,672.2 361.1,669.0 361.9,667.3 362.7,668.5 363.5,666.9 364.3,662.8 365.1,659.2 365.9,659.2 366.7,661.0 367.5,656.8 368.3,652.5 369.1,653.9 369.9,657.9 370.7,659.0 371.5,657.3 372.3,654.1 373.1,650.3 373.9,649.9 374.7,650.6 375.5,648.0 376.3,645.0 377.1,640.2 377.9,634.0 378.7,632.5 379.5,633.0 380.3,631.1 381.1,627.9 381.9,624.6 382.7,620.2 383.5,617.1 384.3,612.9 385.1,611.3 385.9,614.5 386.7,615.1 387.5,613.6 388.3,614.0 389.1,612.0 389.9,606.7 390.7,606.2 391.5,608.9 392.3,613.6 393.1,617.8 393.9,616.9 394.7,615.8 395.5,619.7 396.3,621.2 397.1,616.1 397.9,614.9 398.7,616.9 399.5,617.0 400.3,616.2 401.1,615.3 401.9,618.2 402.7,621.9 403.5,622.0 404.3,624.5 405.1,629.7 405.9,630.1 406.7,628.6 407.5,629.0 408.3,628.9 409.1,627.5 409.9,628.4 410.7,629.9 411.5,630.1 412.3,630.1 413.1,629.6 413.9,631.8 414.7,634.7 415.5,633.9 416.3,628.7 417.1,626.8 417.9,627.2 418.7,628.5 419.5,632.5 420.3,637.3 421.1,640.9 421.9,641.6 422.7,643.9 423.5,648.7 424.3,646.1 425.1,639.0 425.9,637.2 426.7,640.5 427.5,640.1 428.3,639.1 429.1,641.2 429.9,641.3 430.7,642.0 431.5,644.1 432.3,644.0 433.1,643.2 433.9,643.2 434.7,643.0 435.5,644.9 436.3,648.2 437.1,648.6 437.9,645.9 438.7,646.6 439.5,649.5 440.3,651.6 441.1,657.7 441.9,660.6 442.7,657.7 443.5,655.8 444.3,659.9 445.1,665.2 445.9,667.2 446.7,669.0 447.5,669.4 448.3,667.9 449.1,664.0 449.9,657.6 450.7,654.0 451.5,656.7 452.3,659.5 453.1,659.8 453.9,658.8 454.7,655.6 455.5,653.1 456.3,648.7 457.1,643.2 457.9,641.1 458.7,641.8 459.5,644.3 460.3,644.7 461.1,646.0 461.9,646.6 462.7,643.9 463.5,640.3 464.3,634.9 465.1,630.5 465.9,628.5 466.7,624.1 467.5,621.3 468.3,620.5 469.1,617.4 469.9,614.8 470.7,612.9 471.5,612.1 472.3,607.0 473.1,600.1 473.9,598.7 474.7,601.5 475.5,601.8 476.3,600.3 477.1,600.6 477.9,598.9 478.7,597.1 479.5,597.4 480.3,597.9 481.1,597.4 481.9,594.2 482.7,591.6 483.5,589.7 484.3,588.6 485.1,591.3 485.9,592.8 486.7,594.5 487.5,597.9 488.3,601.1 489.1,599.9 489.9,598.8 490.7,596.1 491.5,594.3 492.3,598.7 493.1,601.6 493.9,603.0 494.7,604.6 495.5,609.4 496.3,614.4 497.1,614.4 497.9,611.6 498.7,611.8 499.5,613.1 500.3,616.8 501.1,619.7 501.9,618.2 502.7,617.0 503.5,621.6 504.3,626.1 505.1,628.5 505.9,630.1 506.7,634.1 507.5,639.3 508.3,638.6 509.1,636.5 509.9,642.0 510.7,647.1 511.5,648.9 512.3,651.3 513.1,653.7 513.9,657.5 514.7,661.7 515.5,665.1 516.3,667.7 517.1,671.0 517.9,675.0 518.7,679.1 519.5,683.0 520.3,686.2 521.1,689.6 521.9,692.9 522.7,696.6 523.5,701.1 524.3,704.0 525.1,706.5 525.9,709.8 526.7,713.7 527.5,718.1 528.3,721.3 529.1,724.3 529.9,727.4 530.7,729.9 531.5,732.8 532.3,737.2 533.1,742.3 533.9,747.3 534.7,752.2 535.5,757.4 536.3,763.1 537.1,767.4 537.9,770.9 538.7,775.9 539.5,782.1 540.3,786.9 541.1,790.5 541.9,795.1 542.7,800.0 543.5,802.6 544.3,804.7 545.1,808.0 545.9,810.8 546.7,813.8 547.5,816.8 548.3,819.9 549.1,824.1 549.9,827.4 550.7,829.0 551.5,829.3 552.3,830.4 553.1,832.5 553.9,835.9 554.7,839.1 555.5,840.0 556.3,837.4 557.1,833.8 557.9,830.5 558.7,827.3 559.5,827.9 560.3,828.7 561.1,825.3 561.9,825.0 562.7,828.3 563.5,830.0 564.3,827.1 565.1,823.5 565.9,824.5 566.7,826.5 567.5,827.5 568.3,826.2 569.1,824.5 569.9,823.3 570.7,821.5 571.5,820.4 572.3,819.1 573.1,813.4 573.9,808.6 574.7,807.1 575.5,806.3 576.3,806.1 577.1,802.7 577.9,796.5 578.7,795.4 579.5,797.1 580.3,796.4 581.1,794.9 581.9,792.8 582.7,790.5 583.5,787.3 584.3,783.4 585.1,779.9 585.9,773.5 586.7,769.9 587.5,767.2 588.3,759.0 589.1,749.2 589.9,745.4 590.7,744.0 591.5,738.9 592.3,731.0 593.1,724.9 593.9,723.3 594.7,723.1 595.5,719.1 596.3,715.2 597.1,712.0 597.9,708.4 598.7,703.4 599.5,700.5 600.3,699.1 601.1,697.5 601.9,694.1 602.7,689.1 603.5,688.0 604.3,687.7 605.1,682.9 605.9,674.9 606.7,668.1 607.5,665.8 608.3,667.2 609.1,668.7 609.9,666.7 610.7,662.9 611.5,658.7 612.3,658.6 613.1,661.5 613.9,661.3 614.7,658.2 615.5,656.7 616.3,655.5 617.1,653.5 617.9,651.3 618.7,648.0 619.5,648.0 620.3,650.3 621.1,651.8 621.9,649.9 622.7,644.7 623.5,639.8 624.3,634.5 625.1,631.3 625.9,631.4 626.7,631.8 627.5,631.5 628.3,633.1 629.1,634.1 629.9,634.4 630.7,636.0 631.5,635.4 632.3,632.5 633.1,629.6 633.9,626.5 634.7,623.5 635.5,621.9 636.3,619.5 637.1,618.7 637.9,617.8 638.7,615.4 639.5,615.0 640.3,614.9 641.1,611.7 641.9,609.4 642.7,610.7 643.5,609.3 644.3,606.8 645.1,606.1 645.9,609.3 646.7,613.4 647.5,614.7 648.3,617.7 649.1,620.6 649.9,621.4 650.7,619.1 651.5,615.6 652.3,613.4 653.1,613.5 653.9,616.4 654.7,618.0 655.5,616.8 656.3,613.5 657.1,611.3 657.9,612.7 658.7,616.8 659.5,620.4 660.3,621.9 661.1,623.2 661.9,624.5 662.7,625.4 663.5,628.8 664.3,631.0 665.1,631.8 665.9,636.1 666.7,639.4 667.5,640.0 668.3,638.6 669.1,636.3 669.9,631.4 670.7,623.5 671.5,621.3 672.3,624.6 673.1,629.6 673.9,628.9 674.7,626.8 675.5,628.0 676.3,631.3 677.1,631.7 677.9,629.9 678.7,629.2 679.5,631.2 680.3,633.9 681.1,634.2 681.9,632.3 682.7,628.9 683.5,627.3 684.3,628.0 685.1,626.5 685.9,624.7 686.7,620.7 687.5,615.1 688.3,613.0 689.1,611.8 689.9,606.7 690.7,605.1 691.5,608.3 692.3,618.1 693.1,626.1 693.9,629.7 694.7,631.2 695.5,635.5 696.3,641.3 697.1,642.9 697.9,642.6 698.7,644.1 699.5,644.9 700.3,643.2 701.1,641.8 701.9,641.9 702.7,642.1 703.5,645.4 704.3,649.1 705.1,649.0 705.9,649.5 706.7,654.4 707.5,659.4 708.3,664.8 709.1,671.0 709.9,675.7 710.7,678.8 711.5,678.4 712.3,683.0 713.1,690.9 713.9,694.8 714.7,689.4 715.5,683.3 716.3,676.5 717.1,673.2 717.9,673.7 718.7,669.5 719.5,661.6 720.3,656.6 721.1,654.3 721.9,659.6 722.7,661.5 723.5,661.6 724.3,666.3 725.1,669.7 725.9,665.3 726.7,659.1 727.5,655.5 728.3,655.8 729.1,657.3 729.9,656.9 730.7,656.8 731.5,652.9 732.3,648.1 733.1,646.9 733.9,646.5 734.7,643.5 735.5,643.7 736.3,646.6 737.1,650.5 737.9,650.1 738.7,652.4 739.5,659.9 740.3,667.7 741.1,670.1 741.9,667.9 742.7,671.4 743.5,676.7 744.3,675.8 745.1,670.2 745.9,667.0 746.7,668.2 747.5,668.6 748.3,664.5 749.1,661.5 749.9,663.6 750.7,665.3 751.5,664.6 752.3,665.4 753.1,665.4 753.9,663.2 754.7,661.3 755.5,662.3 756.3,660.0 757.1,653.2 757.9,646.9 758.7,641.2 759.5,636.9 760.3,630.9 761.1,624.9 761.9,619.6 762.7,616.1 763.5,614.9 764.3,611.0 765.1,606.9 765.9,607.1 766.7,606.1 767.5,603.0 768.3,602.2 769.1,602.0 769.9,598.2 770.7,595.2 771.5,595.6 772.3,597.1 773.1,597.6 773.9,599.9 774.7,602.4 775.5,604.1 776.3,603.7 777.1,600.9 777.9,598.1 778.7,596.9 779.5,597.5 780.3,602.5 781.1,607.2 781.9,613.1 782.7,619.3 783.5,622.5 784.3,624.9 785.1,630.6 785.9,638.9 786.7,643.6 787.5,646.3 788.3,648.7 789.1,652.7 789.9,658.4 790.7,657.7 791.5,653.8 792.3,649.9 793.1,647.1 793.9,644.7 794.7,643.8 795.5,647.2 796.3,652.8 797.1,656.7 797.9,658.2 798.7,657.5 799.5,654.1 800.3,652.6 801.1,650.2 801.9,646.9 802.7,647.7 803.5,649.2 804.3,648.8 805.1,645.8 805.9,642.5 806.7,642.2 807.5,644.7 808.3,646.9 809.1,646.9 809.9,645.8 810.7,645.7 811.5,649.5 812.3,652.0 813.1,653.4 813.9,659.2 814.7,663.8 815.5,664.0 816.3,664.9 817.1,665.8 817.9,666.8 818.7,671.4 819.5,675.9 820.3,674.0 821.1,672.3 821.9,677.3 822.7,678.9 823.5,677.5 824.3,679.9 825.1,681.1 825.9,680.3 826.7,680.4 827.5,678.6 828.3,679.0 829.1,683.2 829.9,686.2 830.7,689.0 831.5,688.6 832.3,684.0 833.1,681.0 833.9,680.7 834.7,680.2 835.5,675.8 836.3,668.9 837.1,664.8 837.9,665.0 838.7,666.7 839.5,664.1 840.3,660.0 841.1,656.0 841.9,652.3 842.7,649.0 843.5,647.0 844.3,646.3 845.1,646.3 845.9,644.7 846.7,643.6 847.5,647.0 848.3,649.6 849.1,646.9 849.9,644.7 850.7,643.5 851.5,638.6 852.3,631.2 853.1,626.7 853.9,631.5 854.7,637.3 855.5,640.0 856.3,642.5 857.1,646.8 857.9,650.0 858.7,650.9 859.5,653.2 860.3,654.4 861.1,653.4 861.9,657.5 862.7,661.1 863.5,658.0 864.3,656.0 865.1,657.3 865.9,660.7 866.7,663.2 867.5,660.1 868.3,654.6 869.1,648.0 869.9,645.0 870.7,646.6 871.5,650.3 872.3,651.9 873.1,653.2 873.9,655.5 874.7,652.3 875.5,644.4 876.3,637.7 877.1,633.6 877.9,630.7 878.7,629.8 879.5,630.6 880.3,629.4 881.1,623.4 881.9,615.8 882.7,614.6 883.5,615.1 884.3,617.4 885.1,621.1 885.9,625.3 886.7,628.3 887.5,631.2 888.3,633.6 889.1,634.4 889.9,637.8 890.7,642.0 891.5,640.1 892.3,633.4 893.1,629.4 893.9,628.3 894.7,628.8 895.5,633.5 896.3,638.9 897.1,643.8 897.9,648.5 898.7,651.5 899.5,652.6 900.3,652.6 901.1,651.6 901.9,653.0 902.7,658.6 903.5,661.0 904.3,659.0 905.1,660.5 905.9,663.1 906.7,663.1 907.5,663.8 908.3,664.6 909.1,662.3 909.9,658.5 910.7,655.8 911.5,655.5 912.3,655.2 913.1,655.2 913.9,655.8 914.7,656.8 915.5,657.2 916.3,657.3 917.1,658.9 917.9,663.3 918.7,664.9 919.5,662.6 920.3,660.8 921.1,659.6 921.9,659.4 922.7,660.5 923.5,658.9 924.3,657.5 925.1,659.6 925.9,661.6 926.7,661.1 927.5,662.2 928.3,662.4 929.1,664.6 929.9,669.8 930.7,677.9 931.5,684.3 932.3,687.1 933.1,688.6 933.9,684.7 934.7,681.3 935.5,683.2 936.3,687.6 937.1,692.1 937.9,691.6 938.7,689.2 939.5,684.6 940.3,679.5 941.1,672.6 941.9,667.2 942.7,664.2 943.5,662.8 944.3,662.9 945.1,664.2 945.9,664.5 946.7,665.5 947.5,663.5 948.3,659.1 949.1,656.2 949.9,653.0 950.7,648.4 951.5,645.9 952.3,644.2 953.1,639.9 953.9,635.0 954.7,633.7 955.5,634.2 956.3,631.5 957.1,629.5 957.9,631.7 958.7,628.9 959.5,623.6 960.3,623.3 961.1,625.0 961.9,625.3 962.7,626.9 963.5,626.9 964.3,625.9 965.1,626.9 965.9,629.0 966.7,631.7 967.5,633.3 968.3,631.2 969.1,628.2 969.9,629.3 970.7,630.8 971.5,627.5 972.3,623.2 973.1,621.5 973.9,621.1 974.7,618.7 975.5,614.4 976.3,611.5 977.1,610.4 977.9,607.1 978.7,608.0 979.5,612.2 980.3,615.6 981.1,617.0 981.9,617.8 982.7,619.0 983.5,621.5 984.3,624.0 985.1,625.7 985.9,628.5 986.7,627.4 987.5,625.4 988.3,625.1 989.1,623.0 989.9,621.7 990.7,622.5 991.5,624.1 992.3,625.1 993.1,622.2 993.9,622.8 994.7,629.1 995.5,636.1 996.3,638.3 997.1,639.9 997.9,645.5 998.7,649.4 999.5,650.9 1000.3,648.3 1001.1,647.5 1001.9,649.9 1002.7,649.9 1003.5,644.9 1004.3,643.0 1005.1,646.0 1005.9,646.1 1006.7,647.3 1007.5,648.3 1008.3,649.8 1009.1,653.4 1009.9,657.6 1010.7,662.0 1011.5,665.0 1012.3,665.8 1013.1,668.1 1013.9,673.7 1014.7,678.5 1015.5,680.0 1016.3,680.5 1017.1,680.5 1017.9,681.3 1018.7,681.5 1019.5,678.6 1019.5,645.5" fill="#ff6060" fill-opacity="0.6"/>
<polyline points="143.5,642.8 144.3,645.7 145.1,648.4 145.9,650.0 146.7,649.2 147.5,647.5 148.3,644.2 149.1,643.2 149.9,646.8 150.7,647.2 151.5,646.1 152.3,647.0 153.1,647.2 153.9,645.3 154.7,643.1 155.5,645.4 156.3,649.5 157.1,650.7 157.9,649.7 158.7,651.8 159.5,656.6 160.3,658.1 161.1,661.5 161.9,664.2 162.7,660.8 163.5,658.0 164.3,657.8 165.1,660.9 165.9,666.2 166.7,665.5 167.5,665.1 168.3,664.1 169.1,662.2 169.9,661.2 170.7,659.5 171.5,660.3 172.3,663.0 173.1,665.9 173.9,663.5 174.7,660.4 175.5,660.0 176.3,658.7 177.1,655.3 177.9,649.7 178.7,646.8 179.5,650.0 180.3,656.7 181.1,658.4 181.9,655.2 182.7,655.4 183.5,655.9 184.3,651.7 185.1,648.1 185.9,646.1 186.7,643.6 187.5,640.5 188.3,639.1 189.1,643.2 189.9,645.6 190.7,644.3 191.5,639.0 192.3,638.3 193.1,645.0 193.9,649.3 194.7,648.5 195.5,648.2 196.3,649.5 197.1,652.1 197.9,655.1 198.7,659.0 199.5,660.1 200.3,657.6 201.1,657.5 201.9,657.8 202.7,653.6 203.5,648.1 204.3,646.0 205.1,645.4 205.9,645.3 206.7,648.7 207.5,656.0 208.3,660.0 209.1,659.7 209.9,656.1 210.7,654.3 211.5,653.5 212.3,655.1 213.1,656.2 213.9,652.3 214.7,646.8 215.5,640.4 216.3,633.9 217.1,625.5 217.9,617.9 218.7,614.9 219.5,619.9 220.3,623.1 221.1,619.9 221.9,615.8 222.7,614.3 223.5,615.9 224.3,617.5 225.1,615.6 225.9,613.0 226.7,611.9 227.5,611.3 228.3,611.6 229.1,611.3 229.9,609.4 230.7,605.2 231.5,603.9 232.3,606.7 233.1,609.8 233.9,609.3 234.7,609.2 235.5,612.3 236.3,615.3 237.1,619.9 237.9,626.6 238.7,630.8 239.5,630.0 240.3,632.4 241.1,631.6 241.9,630.5 242.7,630.5 243.5,630.1 244.3,627.1 245.1,625.7 245.9,624.9 246.7,622.9 247.5,621.5 248.3,621.8 249.1,622.9 249.9,621.5 250.7,615.9 251.5,612.8 252.3,610.6 253.1,606.1 253.9,605.2 254.7,610.6 255.5,613.5 256.3,614.8 257.1,614.4 257.9,615.0 258.7,617.5 259.5,618.4 260.3,615.6 261.1,612.1 261.9,609.0 262.7,606.9 263.5,604.9 264.3,603.1 265.1,605.6 265.9,611.9 266.7,616.9 267.5,616.1 268.3,615.5 269.1,621.1 269.9,625.0 270.7,624.3 271.5,623.7 272.3,627.6 273.1,628.1 273.9,627.7 274.7,632.8 275.5,635.8 276.3,635.5 277.1,634.3 277.9,632.0 278.7,632.3 279.5,634.7 280.3,637.2 281.1,638.9 281.9,639.0 282.7,639.3 283.5,642.5 284.3,645.3 285.1,644.1 285.9,644.2 286.7,647.6 287.5,649.8 288.3,651.2 289.1,653.0 289.9,653.0 290.7,648.6 291.5,644.6 292.3,645.8 293.1,646.4 293.9,644.3 294.7,642.0 295.5,638.2 296.3,636.7 297.1,634.7 297.9,628.4 298.7,626.3 299.5,625.5 300.3,622.8 301.1,626.5 301.9,631.5 302.7,631.5 303.5,632.2 304.3,633.9 305.1,634.8 305.9,639.2 306.7,643.7 307.5,645.7 308.3,645.5 309.1,643.6 309.9,641.3 310.7,639.8 311.5,640.2 312.3,643.5 313.1,645.5 313.9,645.5 314.7,645.0 315.5,644.1 316.3,645.3 317.1,648.1 317.9,650.9 318.7,653.4 319.5,656.5 320.3,658.3 321.1,656.2 321.9,654.2 322.7,655.2 323.5,658.7 324.3,659.6 325.1,658.6 325.9,660.0 326.7,661.5 327.5,661.7 328.3,663.0 329.1,663.7 329.9,663.8 330.7,666.8 331.5,669.5 332.3,667.2 333.1,662.2 333.9,660.1 334.7,659.2 335.5,655.7 336.3,654.5 337.1,656.5 337.9,656.5 338.7,655.9 339.5,656.8 340.3,658.1 341.1,656.5 341.9,654.9 342.7,654.3 343.5,654.8 344.3,654.1 345.1,652.7 345.9,652.0 346.7,650.9 347.5,648.0 348.3,643.8 349.1,643.4 349.9,649.0 350.7,655.0 351.5,656.9 352.3,653.9 353.1,651.9 353.9,656.2 354.7,658.6 355.5,657.0 356.3,656.1 357.1,656.0 357.9,656.8 358.7,659.5 359.5,661.9 360.3,662.9 361.1,660.1 361.9,658.0 362.7,658.4 363.5,656.4 364.3,652.4 365.1,649.1 365.9,649.5 366.7,651.4 367.5,647.2 368.3,642.8 369.1,644.1 369.9,647.9 370.7,648.9 371.5,647.3 372.3,644.5 373.1,641.5 373.9,642.0 374.7,644.0 375.5,643.8 376.3,642.0 377.1,637.1 377.9,629.1 378.7,625.2 379.5,624.0 380.3,622.1 381.1,619.4 381.9,615.8 382.7,609.5 383.5,604.1 384.3,598.2 385.1,596.7 385.9,601.3 386.7,602.9 387.5,601.0 388.3,600.5 389.1,598.6 389.9,594.5 390.7,596.3 391.5,601.0 392.3,606.3 393.1,610.0 393.9,608.7 394.7,607.8 395.5,611.6 396.3,612.1 397.1,605.2 397.9,602.1 398.7,603.1 399.5,603.4 400.3,604.2 401.1,605.5 401.9,610.3 402.7,615.0 403.5,615.4 404.3,618.5 405.1,624.2 405.9,624.2 406.7,621.5 407.5,620.2 408.3,619.7 409.1,619.8 409.9,623.8 410.7,628.2 411.5,628.8 412.3,626.5 413.1,623.5 413.9,625.4 414.7,629.9 415.5,630.0 416.3,623.4 417.1,618.5 417.9,616.0 418.7,615.7 419.5,620.6 420.3,627.9 421.1,634.0 421.9,636.2 422.7,639.6 423.5,645.8 424.3,644.0 425.1,637.0 425.9,635.1 426.7,638.5 427.5,637.8 428.3,635.9 429.1,637.2 429.9,637.3 430.7,638.9 431.5,642.5 432.3,644.4 433.1,645.5 433.9,647.0 434.7,647.3 435.5,648.0 436.3,649.5 437.1,648.3 437.9,644.5 438.7,643.5 439.5,644.3 440.3,645.2 441.1,651.2 441.9,654.9 442.7,651.8 443.5,648.7 444.3,651.2 445.1,656.2 445.9,658.8 446.7,661.1 447.5,661.6 448.3,660.1 449.1,656.4 449.9,649.4 450.7,644.4 451.5,646.0 452.3,648.8 453.1,649.9 453.9,650.1 454.7,649.0 455.5,648.4 456.3,645.7 457.1,641.6 457.9,639.5 458.7,639.6 459.5,641.2 460.3,641.3 461.1,642.7 461.9,643.1 462.7,640.1 463.5,636.7 464.3,631.7 465.1,627.1 465.9,623.6 466.7,616.4 467.5,610.7 468.3,608.0 469.1,604.1 469.9,601.2 470.7,598.3 471.5,596.0 472.3,590.1 473.1,583.5 473.9,582.7 474.7,585.2 475.5,584.6 476.3,582.2 477.1,581.7 477.9,579.6 478.7,578.3 479.5,578.8 480.3,578.7 481.1,577.4 481.9,573.5 482.7,570.3 483.5,567.6 484.3,566.4 485.1,570.7 485.9,573.9 486.7,576.7 487.5,581.0 488.3,585.3 489.1,583.6 489.9,581.1 490.7,577.1 491.5,574.8 492.3,580.4 493.1,584.5 493.9,586.8 494.7,589.4 495.5,595.3 496.3,600.4 497.1,599.4 497.9,595.5 498.7,595.2 499.5,597.1 500.3,602.9 501.1,608.6 501.9,609.4 502.7,609.1 503.5,613.8 504.3,618.8 505.1,622.1 505.9,624.8 506.7,628.9 507.5,633.9 508.3,633.3 509.1,631.8 509.9,637.6 510.7,641.3" fill="none" stroke="#ff6060" stroke-opacity=".75" stroke-width="1.8" stroke-dasharray="6 7.5"/>
<polyline points="510.7,641.3 511.5,640.5 512.3,641.5 513.1,643.6 513.9,647.1 514.7,651.4 515.5,655.4 516.3,658.7 517.1,661.3 517.9,663.1 518.7,664.5 519.5,666.2 520.3,669.0 521.1,672.1 521.9,674.4 522.7,675.9 523.5,677.8 524.3,680.8 525.1,684.1 525.9,686.8 526.7,688.8 527.5,690.9 528.3,693.9 529.1,697.5 529.9,700.5 530.7,702.7 531.5,704.3 532.3,706.3 533.1,708.9 533.9,711.6 534.7,714.2 535.5,716.7 536.3,718.6 537.1,720.4 537.9,722.7 538.7,725.2 539.5,727.2 540.3,728.9 541.1,730.6 541.9,732.8 542.7,735.1 543.5,737.4 544.3,739.8 545.1,741.4 545.9,742.7 546.7,743.5 547.5,744.2 548.3,745.4 549.1,746.9 549.9,748.6 550.7,750.8 551.5,756.5 552.3,761.6 553.1,766.8 553.9,772.5 554.7,778.6 555.5,779.4 556.3,779.7 557.1,780.5 557.9,781.4 558.7,782.0 559.5,782.4 560.3,782.4 561.1,782.0 561.9,782.0 562.7,781.9 563.5,781.9 564.3,782.6 565.1,784.0 565.9,786.1 566.7,788.4 567.5,790.2 568.3,790.9 569.1,790.5 569.9,789.5 570.7,789.0 571.5,790.1 572.3,788.9 573.1,788.3 573.9,786.9 574.7,784.5 575.5,781.3 576.3,779.1 577.1,777.2 577.9,775.5 578.7,773.8 579.5,771.6 580.3,768.7 581.1,766.1 581.9,765.0 582.7,764.5 583.5,763.7 584.3,761.8 585.1,759.5 585.9,757.1 586.7,754.9 587.5,752.6 588.3,749.2 589.1,744.0 589.9,738.9 590.7,733.8 591.5,729.1 592.3,724.4 593.1,719.3 593.9,714.3 594.7,710.0 595.5,707.6 596.3,705.6 597.1,703.9 597.9,701.5 598.7,698.3 599.5,694.6 600.3,690.7 601.1,686.7 601.9,683.1 602.7,679.9 603.5,676.8 604.3,674.1 605.1,671.5 605.9,668.4 606.7,664.5 607.5,661.6 608.3,659.5 609.1,657.9 609.9,656.4 610.7,654.8 611.5,653.3 612.3,652.4 613.1,651.5 613.9,650.8 614.7,650.2 615.5,649.6 616.3,649.2 617.1,648.8 617.9,647.7 618.7,646.1 619.5,644.7 620.3,648.1" fill="none" stroke="#ff6060" stroke-opacity=".75" stroke-width="1.8" stroke-dasharray="8.5 4.5"/>
<polyline points="620.3,648.1 621.1,650.4 621.9,649.4 622.7,643.8 623.5,637.6 624.3,631.1 625.1,627.5 625.9,627.0 626.7,626.4 627.5,624.4 628.3,623.7 629.1,622.7 629.9,622.2 630.7,625.2 631.5,627.0 632.3,625.2 633.1,621.8 633.9,617.3 634.7,612.9 635.5,610.3 636.3,607.3 637.1,605.9 637.9,603.9 638.7,599.9 639.5,598.3 640.3,598.2 641.1,596.0 641.9,594.1 642.7,594.4 643.5,592.0 644.3,589.4 645.1,589.7 645.9,595.1 646.7,600.8 647.5,602.8 648.3,606.3 649.1,609.9 649.9,611.9 650.7,609.5 651.5,604.6 652.3,601.2 653.1,601.0 653.9,604.4 654.7,605.6 655.5,603.0 656.3,598.7 657.1,597.2 657.9,599.8 658.7,604.9 659.5,609.6 660.3,612.0 661.1,613.8 661.9,615.0 662.7,615.7 663.5,619.2 664.3,621.4 665.1,622.2 665.9,626.7 666.7,630.7 667.5,632.0 668.3,630.2 669.1,626.8 669.9,621.2 670.7,612.7 671.5,609.8 672.3,612.7 673.1,618.7 673.9,619.8 674.7,620.0 675.5,622.2 676.3,625.1 677.1,624.7 677.9,622.9 678.7,622.7 679.5,625.1 680.3,628.1 681.1,628.4 681.9,626.0 682.7,621.8 683.5,619.7 684.3,620.6 685.1,618.6 685.9,615.4 686.7,609.2 687.5,601.4 688.3,597.7 689.1,595.9 689.9,591.0 690.7,591.7 691.5,596.5 692.3,607.5 693.1,617.1 693.9,623.2 694.7,626.8 695.5,632.1 696.3,637.9 697.1,638.8 697.9,638.6 698.7,639.5 699.5,640.3 700.3,639.7 701.1,639.1 701.9,639.5 702.7,639.1 703.5,641.5 704.3,643.5 705.1,642.8 705.9,644.5 706.7,650.6 707.5,654.9 708.3,657.9 709.1,661.2 709.9,663.7 710.7,665.2 711.5,664.0 712.3,667.7 713.1,674.9 713.9,678.3 714.7,675.0 715.5,671.2 716.3,665.7 717.1,662.0 717.9,661.4 718.7,657.2 719.5,650.6 720.3,647.4 721.1,646.3 721.9,650.6 722.7,651.5 723.5,651.4 724.3,656.7 725.1,660.6 725.9,656.1 726.7,648.9 727.5,643.8 728.3,643.7 729.1,646.2 729.9,648.0 730.7,650.0 731.5,647.5 732.3,643.1 733.1,642.5 733.9,643.3 734.7,640.9 735.5,642.6 736.3,644.1 737.1,646.1 737.9,643.9 738.7,644.9 739.5,651.8 740.3,659.5 741.1,662.0 741.9,659.6 742.7,662.4 743.5,667.2 744.3,666.4 745.1,662.2 745.9,659.4 746.7,660.2 747.5,660.8 748.3,656.6 749.1,652.4 749.9,652.1 750.7,652.0 751.5,651.2 752.3,653.3 753.1,655.2 753.9,655.3 754.7,655.3 755.5,657.3 756.3,655.8 757.1,650.3 757.9,645.1 758.7,640.2 759.5,633.2 760.3,625.4 761.1,618.6 761.9,613.0 762.7,608.9 763.5,606.0 764.3,598.9 765.1,590.9 765.9,589.4 766.7,588.2 767.5,585.8 768.3,586.4 769.1,587.9 769.9,584.7 770.7,580.1 771.5,578.1 772.3,579.0 773.1,581.0 773.9,585.0 774.7,587.8 775.5,588.1 776.3,586.0 777.1,582.9 777.9,580.9 778.7,580.1 779.5,580.4 780.3,586.1 781.1,591.6 781.9,598.4 782.7,606.0 783.5,611.2 784.3,615.9 785.1,623.7 785.9,633.5 786.7,639.5 787.5,642.5 788.3,643.7 789.1,646.0 789.9,649.3 790.7,647.9 791.5,644.5 792.3,641.4 793.1,639.3 793.9,636.9 794.7,636.2 795.5,640.7 796.3,647.3 797.1,652.5 797.9,655.0 798.7,654.4 799.5,650.8 800.3,648.6 801.1,645.8 801.9,642.4 802.7,643.4 803.5,644.7 804.3,643.0 805.1,639.2 805.9,636.4 806.7,637.4 807.5,641.2 808.3,644.0 809.1,644.0 809.9,642.3 810.7,641.9 811.5,644.8 812.3,646.0 813.1,645.9 813.9,650.3 814.7,654.4 815.5,654.7 816.3,655.5 817.1,655.8 817.9,656.5 818.7,661.5 819.5,665.9 820.3,662.9 821.1,660.1 821.9,664.6 822.7,666.5 823.5,666.0 824.3,669.1 825.1,670.4 825.9,669.0 826.7,668.0 827.5,665.0 828.3,664.4 829.1,668.2 829.9,671.4 830.7,674.4 831.5,673.9 832.3,669.0 833.1,665.9 833.9,666.1 834.7,666.8 835.5,664.4 836.3,659.7 837.1,657.3 837.9,658.2 838.7,659.2 839.5,655.4 840.3,651.1 841.1,648.8 841.9,647.5 842.7,646.2 843.5,645.2 844.3,646.0 845.1,646.6 845.9,646.2 846.7,644.2 847.5,644.6 848.3,644.3 849.1,639.7 849.9,636.0 850.7,633.8 851.5,628.3 852.3,620.8 853.1,617.0 853.9,624.9 854.7,633.4 855.5,637.9 856.3,641.7 857.1,644.5 857.9,645.4 858.7,643.9 859.5,644.7 860.3,645.7 861.1,645.6 861.9,651.7 862.7,657.6 863.5,655.5 864.3,652.9 865.1,652.3 865.9,654.1 866.7,656.0 867.5,653.8 868.3,649.3 869.1,644.0 869.9,642.9 870.7,646.2 871.5,651.4 872.3,652.0 873.1,650.2 873.9,648.3 874.7,643.1 875.5,636.0 876.3,628.2 877.1,622.4 877.9,619.1 878.7,619.2 879.5,621.6 880.3,621.4 881.1,614.5 881.9,604.6 882.7,601.9 883.5,601.7 884.3,603.6 885.1,607.1 885.9,612.2 886.7,616.8 887.5,620.9 888.3,624.3 889.1,626.3 889.9,631.4 890.7,636.7 891.5,635.2 892.3,627.6 893.1,622.6 893.9,620.6 894.7,620.2 895.5,625.9 896.3,633.0 897.1,638.7 897.9,643.2 898.7,645.3 899.5,645.3 900.3,645.3 901.1,644.1 901.9,645.0 902.7,650.2 903.5,652.6 904.3,651.1 905.1,653.4 905.9,656.8 906.7,657.6 907.5,658.7 908.3,659.1 909.1,655.8 909.9,651.5 910.7,649.2 911.5,649.2 912.3,648.4 913.1,646.8 913.9,645.7 914.7,645.9 915.5,647.2 916.3,649.4 917.1,653.3 917.9,659.4 918.7,661.4 919.5,658.6 920.3,656.4 921.1,654.8 921.9,653.9 922.7,654.3 923.5,652.8 924.3,652.5 925.1,656.3 925.9,659.5 926.7,658.6 927.5,657.1 928.3,655.2 929.1,655.8 929.9,659.1 930.7,664.1 931.5,667.4 932.3,668.9 933.1,671.5 933.9,670.2 934.7,667.7 935.5,668.7 936.3,671.9 937.1,675.8 937.9,674.7 938.7,671.4 939.5,667.7 940.3,664.5 941.1,660.6 941.9,658.1 942.7,657.1 943.5,656.3 944.3,656.4 945.1,658.0 945.9,658.8 946.7,660.1 947.5,658.2 948.3,653.9 949.1,652.0 949.9,650.5 950.7,647.4 951.5,646.2 952.3,645.3 953.1,639.7 953.9,633.6 954.7,630.5 955.5,628.4 956.3,622.8 957.1,618.6 957.9,620.5 958.7,618.9 959.5,615.4 960.3,616.4 961.1,619.0 961.9,619.9 962.7,621.3 963.5,620.5 964.3,618.2 965.1,618.2 965.9,619.9 966.7,622.6 967.5,624.0 968.3,621.4 969.1,617.7 969.9,618.3 970.7,620.0 971.5,617.1 972.3,612.9 973.1,610.5 973.9,609.5 974.7,607.3 975.5,603.5 976.3,600.9 977.1,598.9 977.9,594.5 978.7,596.4 979.5,602.7 980.3,607.5 981.1,609.5 981.9,609.9 982.7,611.1 983.5,614.7 984.3,618.2 985.1,619.4 985.9,620.8 986.7,619.0 987.5,617.0 988.3,616.1 989.1,613.1 989.9,612.0 990.7,613.5 991.5,615.2 992.3,615.3 993.1,611.3 993.9,612.5 994.7,620.8 995.5,630.2 996.3,634.5 997.1,637.5 997.9,643.6 998.7,646.6 999.5,646.3 1000.3,643.3 1001.1,643.5 1001.9,647.5 1002.7,648.4 1003.5,643.3 1004.3,640.0 1005.1,640.5 1005.9,639.4 1006.7,640.7 1007.5,642.1 1008.3,643.9 1009.1,647.8 1009.9,651.9 1010.7,655.3 1011.5,656.3 1012.3,654.5 1013.1,654.9 1013.9,660.0 1014.7,664.6 1015.5,665.2 1016.3,664.3 1017.1,664.1 1017.9,665.4 1018.7,666.5 1019.5,664.8" fill="none" stroke="#ff6060" stroke-opacity=".75" stroke-width="1.8" stroke-dasharray="6 7.5"/>
<polyline points="143.5,650.3 144.3,653.3 145.1,654.7 145.9,656.3 146.7,658.4 147.5,661.0 148.3,660.4 149.1,657.5 149.9,657.6 150.7,654.8 151.5,651.4 152.3,650.2 153.1,648.3 153.9,644.5 154.7,641.2 155.5,645.3 156.3,653.0 157.1,659.0 157.9,662.8 158.7,668.6 159.5,675.6 160.3,678.1 161.1,682.6 161.9,687.6 162.7,686.8 163.5,685.9 164.3,686.2 165.1,689.1 165.9,693.9 166.7,691.2 167.5,689.4 168.3,688.5 169.1,687.2 169.9,686.2 170.7,683.2 171.5,682.2 172.3,683.8 173.1,686.5 173.9,684.2 174.7,680.5 175.5,678.9 176.3,676.6 177.1,672.0 177.9,665.0 178.7,661.4 179.5,664.7 180.3,671.6 181.1,673.0 181.9,668.3 182.7,666.7 183.5,666.3 184.3,662.5 185.1,659.3 185.9,656.3 186.7,651.8 187.5,646.7 188.3,644.9 189.1,648.2 189.9,652.8 190.7,655.8 191.5,655.0 192.3,657.0 193.1,664.2 193.9,668.1 194.7,666.8 195.5,666.4 196.3,667.8 197.1,670.3 197.9,672.9 198.7,675.9 199.5,675.0 200.3,671.8 201.1,671.2 201.9,670.9 202.7,666.7 203.5,662.0 204.3,659.9 205.1,658.2 205.9,657.6 206.7,661.3 207.5,670.5 208.3,676.8 209.1,677.3 209.9,670.8 210.7,666.9 211.5,664.6 212.3,664.3 213.1,664.1 213.9,659.6 214.7,653.5 215.5,649.8 216.3,645.0 217.1,638.5 217.9,633.1 218.7,632.3 219.5,638.4 220.3,642.1 221.1,638.0 221.9,632.3 222.7,629.4 223.5,630.7 224.3,633.8 225.1,634.5 225.9,634.5 226.7,635.7 227.5,636.7 228.3,637.4 229.1,636.2 229.9,633.2 230.7,629.0 231.5,628.7 232.3,631.5 233.1,632.6 233.9,629.6 234.7,628.2 235.5,629.8 236.3,629.7 237.1,630.4 237.9,635.2 238.7,640.1 239.5,641.0 240.3,644.4 241.1,645.3 241.9,643.8 242.7,643.2 243.5,643.9 244.3,643.4 245.1,643.3 245.9,642.7 246.7,640.4 247.5,637.8 248.3,635.7 249.1,634.3 249.9,632.7 250.7,629.4 251.5,628.7 252.3,628.2 253.1,625.2 253.9,625.8 254.7,630.2 255.5,631.4 256.3,631.1 257.1,628.7 257.9,627.3 258.7,629.1 259.5,631.9 260.3,632.9 261.1,632.7 261.9,631.4 262.7,629.5 263.5,627.4 264.3,625.8 265.1,628.3 265.9,632.6 266.7,635.3 267.5,633.7 268.3,632.8 269.1,637.1 269.9,638.7 270.7,636.2 271.5,636.2 272.3,642.0 273.1,644.0 273.9,643.0 274.7,645.1 275.5,644.6 276.3,642.4 277.1,641.5 277.9,640.3 278.7,640.8 279.5,643.1 280.3,646.2 281.1,648.8 281.9,649.1 282.7,648.4 283.5,651.8 284.3,654.5 285.1,653.3 285.9,653.9 286.7,657.9 287.5,660.9 288.3,662.6 289.1,664.7 289.9,664.3 290.7,658.4 291.5,652.9 292.3,653.6 293.1,654.7 293.9,653.2 294.7,650.6 295.5,646.7 296.3,646.1 297.1,645.8 297.9,641.8 298.7,641.9 299.5,642.3 300.3,639.8 301.1,642.8 301.9,645.7 302.7,644.3 303.5,644.2 304.3,644.7 305.1,642.9 305.9,646.5 306.7,650.4 307.5,651.5 308.3,649.9 309.1,646.9 309.9,644.4 310.7,642.7 311.5,643.3 312.3,647.6 313.1,651.0 313.9,651.8 314.7,651.9 315.5,652.0 316.3,654.0 317.1,658.0 317.9,662.5 318.7,667.6 319.5,673.4 320.3,676.8 321.1,675.4 321.9,674.1 322.7,675.8 323.5,679.3 324.3,680.0 325.1,679.5 325.9,682.9 326.7,687.3 327.5,690.5 328.3,693.5 329.1,693.6 329.9,691.1 330.7,690.0 331.5,689.7 332.3,686.6 333.1,681.9 333.9,679.3 334.7,676.9 335.5,673.0 336.3,672.8 337.1,675.6 337.9,675.2 338.7,673.6 339.5,673.9 340.3,675.1 341.1,674.1 341.9,672.8 342.7,671.9 343.5,672.4 344.3,672.0 345.1,669.4 345.9,666.8 346.7,664.2 347.5,660.9 348.3,656.1 349.1,654.1 349.9,659.6 350.7,667.4 351.5,672.2 352.3,673.0 353.1,673.2 353.9,678.3 354.7,680.2 355.5,677.1 356.3,675.3 357.1,675.7 357.9,677.5 358.7,681.2 359.5,684.2 360.3,685.1 361.1,680.8 361.9,677.2 362.7,677.1 363.5,675.3 364.3,671.2 365.1,667.8 365.9,668.5 366.7,670.3 367.5,664.8 368.3,658.7 369.1,659.1 369.9,662.7 370.7,663.6 371.5,661.6 372.3,658.4 373.1,654.4 373.9,652.7 374.7,651.3 375.5,647.0 376.3,645.3 377.1,643.1 377.9,638.9 378.7,638.8 379.5,640.4 380.3,639.1 381.1,636.6 381.9,634.7 382.7,632.5 383.5,631.3 384.3,627.5 385.1,625.3 385.9,628.0 386.7,629.3 387.5,629.1 388.3,630.3 389.1,627.9 389.9,621.2 390.7,619.1 391.5,621.0 392.3,625.3 393.1,629.2 393.9,627.8 394.7,626.2 395.5,630.3 396.3,632.7 397.1,628.6 397.9,627.7 398.7,629.7 399.5,629.9 400.3,629.1 401.1,628.8 401.9,632.3 402.7,636.0 403.5,635.5 404.3,636.9 405.1,641.1 405.9,641.3 406.7,640.2 407.5,640.5 408.3,639.8 409.1,636.8 409.9,635.4 410.7,634.6 411.5,633.5 412.3,633.1 413.1,632.0 413.9,633.5 414.7,637.0 415.5,638.0 416.3,634.7 417.1,634.1 417.9,635.6 418.7,637.9 419.5,642.3 420.3,646.5 421.1,648.7 421.9,648.1 422.7,649.7 423.5,654.4 424.3,651.9 425.1,644.8 425.9,642.9 426.7,646.1 427.5,645.5 428.3,644.4 429.1,646.8 429.9,647.8 430.7,649.7 431.5,652.4 432.3,651.6 433.1,649.2 433.9,647.4 434.7,645.5 435.5,646.6 436.3,650.0 437.1,651.4 437.9,649.0 438.7,649.0 439.5,651.9 440.3,655.5 441.1,664.2 441.9,669.9 442.7,669.0 443.5,667.7 444.3,671.4 445.1,676.5 445.9,678.6 446.7,680.3 447.5,680.3 448.3,678.6 449.1,674.3 449.9,667.2 450.7,662.7 451.5,664.8 452.3,667.5 453.1,667.6 453.9,665.9 454.7,661.4 455.5,658.0 456.3,652.8 457.1,645.7 457.9,642.8 458.7,643.7 459.5,647.4 460.3,649.8 461.1,653.1 461.9,654.6 462.7,651.1 463.5,645.7 464.3,639.5 465.1,635.8 465.9,636.1 466.7,634.2 467.5,632.8 468.3,632.1 469.1,628.7 469.9,626.0 470.7,624.7 471.5,624.8 472.3,621.1 473.1,615.4 473.9,615.0 474.7,618.2 475.5,618.3 476.3,615.9 477.1,615.4 477.9,613.6 478.7,612.0 479.5,612.9 480.3,613.8 481.1,613.7 481.9,611.1 482.7,609.5 483.5,608.4 484.3,607.6 485.1,609.0 485.9,608.8 486.7,609.1 487.5,611.6 488.3,614.5 489.1,614.3 489.9,614.5 490.7,612.6 491.5,611.4 492.3,615.6 493.1,618.5 493.9,619.0 494.7,619.3 495.5,623.7 496.3,630.3 497.1,631.7 497.9,628.5 498.7,627.5 499.5,628.2 500.3,631.6 501.1,633.7 501.9,630.7 502.7,627.7 503.5,630.8 504.3,634.4 505.1,636.2 505.9,637.0 506.7,640.0 507.5,644.2 508.3,642.3 509.1,638.9 509.9,642.8 510.7,648.2" fill="none" stroke="#ff6060" stroke-opacity=".75" stroke-width="1.8" stroke-dasharray="6 7.5"/>
<polyline points="510.7,648.2 511.5,656.2 512.3,660.7 513.1,665.7 513.9,671.1 514.7,676.6 515.5,681.8 516.3,686.8 517.1,691.7 517.9,696.6 518.7,700.8 519.5,704.9 520.3,709.2 521.1,713.1 521.9,716.9 522.7,721.4 523.5,726.8 524.3,731.8 525.1,736.7 525.9,741.6 526.7,746.4 527.5,750.8 528.3,755.2 529.1,760.1 529.9,765.0 530.7,769.4 531.5,773.6 532.3,779.4 533.1,786.5 533.9,793.3 534.7,799.7 535.5,805.7 536.3,811.7 537.1,818.0 537.9,824.5 538.7,831.7 539.5,839.4 540.3,846.8 541.1,853.2 541.9,858.9 542.7,863.2 543.5,867.2 544.3,871.6 545.1,876.2 545.9,880.6 546.7,884.4 547.5,887.7 548.3,890.8 549.1,893.2 549.9,895.9 550.7,899.6 551.5,903.6 552.3,906.4 553.1,905.0 553.9,900.8 554.7,897.8 555.5,896.3 556.3,895.1 557.1,893.0 557.9,889.4 558.7,885.5 559.5,881.5 560.3,878.1 561.1,876.0 561.9,874.2 562.7,872.6 563.5,870.8 564.3,868.8 565.1,867.0 565.9,865.8 566.7,864.6 567.5,862.8 568.3,860.5 569.1,857.5 569.9,854.2 570.7,850.7 571.5,847.5 572.3,844.9 573.1,842.7 573.9,840.3 574.7,837.4 575.5,834.3 576.3,831.5 577.1,829.2 577.9,827.1 578.7,824.7 579.5,821.5 580.3,816.9 581.1,812.1 581.9,808.4 582.7,805.4 583.5,802.1 584.3,797.2 585.1,790.7 585.9,784.6 586.7,779.4 587.5,774.8 588.3,770.3 589.1,766.1 589.9,761.1 590.7,755.3 591.5,749.3 592.3,743.2 593.1,736.9 593.9,731.0 594.7,726.2 595.5,723.2 596.3,719.9 597.1,716.3 597.9,712.4 598.7,709.0 599.5,707.2 600.3,705.3 601.1,702.9 601.9,700.2 602.7,697.6 603.5,695.4 604.3,692.5 605.1,688.4 605.9,684.0 606.7,678.9 607.5,674.9 608.3,671.6 609.1,668.8 609.9,666.4 610.7,664.2 611.5,662.1 612.3,660.7 613.1,659.5 613.9,658.7 614.7,658.1 615.5,657.4 616.3,656.6 617.1,656.0 617.9,655.0 618.7,653.5 619.5,652.0 620.3,656.4" fill="none" stroke="#ff6060" stroke-opacity=".75" stroke-width="1.8" stroke-dasharray="8.5 4.5"/>
<polyline points="620.3,656.4 621.1,658.6 621.9,657.0 622.7,651.9 623.5,646.6 624.3,640.6 625.1,636.9 625.9,636.9 626.7,637.3 627.5,637.4 628.3,639.7 629.1,640.2 629.9,639.1 630.7,639.1 631.5,638.2 632.3,637.1 633.1,636.5 633.9,635.0 634.7,632.8 635.5,631.7 636.3,629.9 637.1,629.8 637.9,629.5 638.7,627.1 639.5,626.2 640.3,626.4 641.1,624.3 641.9,623.1 642.7,625.3 643.5,624.6 644.3,622.8 645.1,622.7 645.9,625.5 646.7,628.1 647.5,627.8 648.3,630.2 649.1,632.8 649.9,632.8 650.7,630.3 651.5,627.1 652.3,625.4 653.1,625.5 653.9,628.2 654.7,629.3 655.5,627.5 656.3,624.1 657.1,622.3 657.9,624.7 658.7,629.7 659.5,633.7 660.3,634.7 661.1,635.3 661.9,635.5 662.7,634.8 663.5,635.9 664.3,636.1 665.1,636.1 665.9,640.4 666.7,643.3 667.5,642.8 668.3,641.0 669.1,639.7 669.9,636.1 670.7,629.6 671.5,629.0 672.3,633.6 673.1,638.8 673.9,638.0 674.7,635.6 675.5,636.3 676.3,639.3 677.1,639.6 677.9,637.3 678.7,635.8 679.5,636.9 680.3,639.1 681.1,639.2 681.9,637.4 682.7,634.0 683.5,632.1 684.3,632.8 685.1,632.8 685.9,633.3 686.7,631.1 687.5,626.1 688.3,623.5 689.1,622.0 689.9,617.5 690.7,615.9 691.5,619.5 692.3,629.4 693.1,637.3 693.9,640.4 694.7,640.2 695.5,641.3 696.3,643.3 697.1,642.6 697.9,641.9 698.7,645.1 699.5,647.2 700.3,645.2 701.1,643.7 701.9,644.8 702.7,645.9 703.5,649.7 704.3,654.7 705.1,655.7 705.9,655.9 706.7,659.7 707.5,664.8 708.3,670.8 709.1,677.5 709.9,682.7 710.7,687.4 711.5,688.7 712.3,694.9 713.1,704.2 713.9,709.4 714.7,703.7 715.5,696.8 716.3,688.6 717.1,683.6 717.9,682.8 718.7,678.5 719.5,671.4 720.3,666.1 721.1,661.3 721.9,664.9 722.7,666.5 723.5,667.5 724.3,673.5 725.1,678.5 725.9,674.6 726.7,668.1 727.5,664.3 728.3,664.7 729.1,665.7 729.9,664.2 730.7,663.0 731.5,658.1 732.3,651.8 733.1,649.2 733.9,647.7 734.7,645.2 735.5,644.5 736.3,647.9 737.1,652.1 737.9,652.3 738.7,655.7 739.5,664.4 740.3,673.8 741.1,678.4 741.9,678.6 742.7,684.0 743.5,690.2 744.3,688.8 745.1,680.8 745.9,674.9 746.7,674.1 747.5,673.4 748.3,668.7 749.1,665.8 749.9,669.5 750.7,673.9 751.5,675.1 752.3,676.0 753.1,674.7 753.9,670.7 754.7,667.0 755.5,667.2 756.3,664.5 757.1,657.7 757.9,651.1 758.7,643.8 759.5,641.6 760.3,638.2 761.1,634.9 761.9,631.1 762.7,628.3 763.5,628.0 764.3,626.3 765.1,624.2 765.9,623.8 766.7,620.8 767.5,616.3 768.3,615.9 769.1,617.0 769.9,614.3 770.7,611.5 771.5,611.2 772.3,611.9 773.1,612.7 773.9,616.8 774.7,621.1 775.5,623.4 776.3,622.9 777.1,619.9 777.9,617.4 778.7,616.3 779.5,616.4 780.3,619.0 781.1,620.3 781.9,623.1 782.7,627.1 783.5,629.0 784.3,630.5 785.1,635.7 785.9,643.3 786.7,646.5 787.5,648.0 788.3,651.5 789.1,658.0 789.9,666.6 790.7,665.8 791.5,659.9 792.3,653.8 793.1,649.7 793.9,647.4 794.7,646.7 795.5,650.0 796.3,656.8 797.1,662.7 797.9,666.4 798.7,666.7 799.5,662.1 800.3,658.7 801.1,654.4 801.9,649.7 802.7,650.1 803.5,652.1 804.3,652.6 805.1,651.2 805.9,649.1 806.7,649.3 807.5,651.2 808.3,651.8 809.1,650.2 809.9,648.3 810.7,648.5 811.5,653.5 812.3,657.1 813.1,659.3 813.9,665.2 814.7,669.7 815.5,670.1 816.3,672.1 817.1,674.2 817.9,676.4 818.7,682.2 819.5,687.4 820.3,685.9 821.1,684.5 821.9,689.8 822.7,691.3 823.5,689.0 824.3,690.3 825.1,690.5 825.9,688.4 826.7,687.9 827.5,687.4 828.3,690.4 829.1,696.9 829.9,700.9 830.7,703.2 831.5,702.1 832.3,696.6 833.1,692.9 833.9,692.5 834.7,692.6 835.5,688.2 836.3,680.8 837.1,675.6 837.9,674.5 838.7,675.0 839.5,671.7 840.3,667.0 841.1,661.6 841.9,656.5 842.7,652.2 843.5,649.2 844.3,647.0 845.1,646.9 845.9,644.9 846.7,644.2 847.5,648.6 848.3,651.5 849.1,649.6 849.9,648.6 850.7,648.3 851.5,644.3 852.3,637.5 853.1,633.6 853.9,637.5 854.7,642.6 855.5,644.4 856.3,646.0 857.1,651.6 857.9,656.0 858.7,658.0 859.5,660.9 860.3,662.4 861.1,661.6 861.9,665.6 862.7,669.2 863.5,666.3 864.3,664.7 865.1,665.8 865.9,668.6 866.7,670.8 867.5,667.0 868.3,661.0 869.1,653.6 869.9,649.1 870.7,649.5 871.5,652.0 872.3,653.9 873.1,656.6 873.9,660.1 874.7,655.6 875.5,643.9 876.3,636.7 877.1,634.8 877.9,634.5 878.7,635.3 879.5,637.3 880.3,637.4 881.1,632.5 881.9,625.9 882.7,624.8 883.5,625.9 884.3,627.9 885.1,629.5 885.9,630.5 886.7,631.9 887.5,635.2 888.3,638.4 889.1,639.3 889.9,641.9 890.7,645.1 891.5,643.4 892.3,638.3 893.1,635.5 893.9,635.1 894.7,636.6 895.5,641.2 896.3,645.4 897.1,648.3 897.9,650.5 898.7,651.9 899.5,653.4 900.3,655.3 901.1,656.7 901.9,659.3 902.7,664.4 903.5,666.2 904.3,664.6 905.1,667.0 905.9,670.1 906.7,670.4 907.5,671.1 908.3,672.2 909.1,670.5 909.9,667.3 910.7,664.7 911.5,664.0 912.3,663.2 913.1,662.7 913.9,663.5 914.7,665.2 915.5,665.6 916.3,665.7 917.1,667.5 917.9,672.1 918.7,674.0 919.5,671.8 920.3,670.2 921.1,669.0 921.9,668.7 922.7,670.1 923.5,668.5 924.3,665.7 925.1,665.7 925.9,666.4 926.7,665.7 927.5,668.3 928.3,670.1 929.1,673.9 929.9,680.7 930.7,689.7 931.5,696.2 932.3,698.9 933.1,700.4 933.9,696.4 934.7,693.2 935.5,696.0 936.3,701.4 937.1,706.6 937.9,706.5 938.7,704.2 939.5,697.6 940.3,690.6 941.1,682.4 941.9,675.9 942.7,671.5 943.5,669.3 944.3,669.2 945.1,669.7 945.9,668.7 946.7,668.8 947.5,667.0 948.3,663.6 949.1,660.6 949.9,656.3 950.7,650.3 951.5,647.0 952.3,644.6 953.1,641.4 953.9,637.7 954.7,637.6 955.5,638.8 956.3,636.4 957.1,635.0 957.9,638.1 958.7,636.7 959.5,633.1 960.3,633.2 961.1,634.0 961.9,632.7 962.7,632.9 963.5,632.6 964.3,632.1 965.1,633.9 965.9,637.5 966.7,642.4 967.5,646.2 968.3,645.3 969.1,642.2 969.9,642.9 970.7,643.5 971.5,638.6 972.3,632.9 973.1,631.2 973.9,631.9 974.7,630.0 975.5,626.3 976.3,624.0 977.1,623.4 977.9,620.5 978.7,619.7 979.5,621.5 980.3,622.1 981.1,621.7 981.9,623.0 982.7,625.4 983.5,629.2 984.3,632.3 985.1,633.6 985.9,635.0 986.7,632.3 987.5,629.2 988.3,629.5 989.1,629.4 989.9,630.0 990.7,631.2 991.5,631.7 992.3,631.4 993.1,628.3 993.9,628.6 994.7,635.0 995.5,642.2 996.3,643.9 997.1,644.3 997.9,648.1 998.7,650.6 999.5,652.1 1000.3,649.5 1001.1,648.2 1001.9,650.7 1002.7,651.5 1003.5,647.8 1004.3,647.1 1005.1,651.3 1005.9,652.2 1006.7,653.3 1007.5,653.8 1008.3,655.1 1009.1,659.0 1009.9,664.0 1010.7,669.3 1011.5,673.1 1012.3,674.2 1013.1,677.2 1013.9,684.7 1014.7,692.2 1015.5,695.8 1016.3,697.5 1017.1,697.4 1017.9,697.6 1018.7,696.6 1019.5,692.2" fill="none" stroke="#ff6060" stroke-opacity=".75" stroke-width="1.8" stroke-dasharray="6 7.5"/>
<polyline points="143.5,645.4 144.3,647.8 145.1,649.4 145.9,650.6 146.7,651.4 147.5,653.5 148.3,653.9 149.1,653.8 149.9,656.0 150.7,653.9 151.5,650.7 152.3,650.2 153.1,649.3 153.9,646.4 154.7,643.7 155.5,646.6 156.3,651.8 157.1,654.4 157.9,655.0 158.7,658.4 159.5,663.6 160.3,665.1 161.1,668.8 161.9,672.4 162.7,670.5 163.5,669.9 164.3,671.8 165.1,676.4 165.9,682.7 166.7,681.6 167.5,680.5 168.3,678.6 169.1,675.2 169.9,672.4 170.7,668.9 171.5,668.5 172.3,671.4 173.1,675.2 173.9,673.2 174.7,669.1 175.5,666.9 176.3,664.5 177.1,661.2 177.9,655.8 178.7,652.5 179.5,655.2 180.3,661.6 181.1,663.1 181.9,659.1 182.7,658.7 183.5,659.5 184.3,656.2 185.1,652.9 185.9,650.3 186.7,647.0 187.5,643.2 188.3,641.8 189.1,645.5 189.9,649.2 190.7,650.4 191.5,647.9 192.3,649.0 193.1,656.2 193.9,660.0 194.7,658.2 195.5,657.3 196.3,658.8 197.1,662.1 197.9,665.6 198.7,669.4 199.5,669.5 200.3,666.7 201.1,666.4 201.9,666.7 202.7,663.0 203.5,658.1 204.3,656.0 205.1,654.6 205.9,653.9 206.7,656.7 207.5,663.8 208.3,667.6 209.1,667.0 209.9,661.9 210.7,659.0 211.5,656.9 212.3,657.3 213.1,658.3 213.9,654.9 214.7,649.5 215.5,644.8 216.3,640.0 217.1,633.4 217.9,627.2 218.7,624.8 219.5,629.3 220.3,632.2 221.1,629.1 221.9,625.2 222.7,623.8 223.5,625.0 224.3,625.8 225.1,623.3 225.9,621.2 226.7,621.8 227.5,622.8 228.3,623.7 229.1,623.2 229.9,621.0 230.7,616.7 231.5,615.6 232.3,618.2 233.1,620.5 233.9,619.1 234.7,618.7 235.5,621.5 236.3,623.3 237.1,626.0 237.9,631.6 238.7,636.1 239.5,636.2 240.3,639.2 241.1,639.2 241.9,637.5 242.7,636.3 243.5,635.7 244.3,633.9 245.1,633.7 245.9,633.2 246.7,630.5 247.5,628.2 248.3,627.8 249.1,628.2 249.9,626.6 250.7,621.7 251.5,619.8 252.3,618.7 253.1,614.9 253.9,614.2 254.7,618.6 255.5,621.0 256.3,622.3 257.1,621.1 257.9,620.4 258.7,622.1 259.5,623.8 260.3,622.6 261.1,620.7 261.9,618.4 262.7,616.6 263.5,615.1 264.3,613.9 265.1,616.4 265.9,621.2 266.7,624.9 267.5,624.0 268.3,623.6 269.1,628.8 269.9,632.4 270.7,631.7 271.5,631.2 272.3,635.0 273.1,635.2 273.9,633.8 274.7,637.1 275.5,638.3 276.3,637.5 277.1,637.0 277.9,635.6 278.7,636.1 279.5,638.8 280.3,641.8 281.1,644.0 281.9,644.1 282.7,644.1 283.5,648.0 284.3,651.4 285.1,650.7 285.9,651.2 286.7,654.2 287.5,655.8 288.3,656.3 289.1,657.1 289.9,655.7 290.7,649.9 291.5,645.5 292.3,647.4 293.1,649.7 293.9,649.8 294.7,648.8 295.5,645.2 296.3,643.2 297.1,640.9 297.9,635.4 298.7,634.9 299.5,635.0 300.3,632.0 301.1,633.9 301.9,635.9 302.7,634.0 303.5,634.7 304.3,637.4 305.1,638.5 305.9,643.1 306.7,647.4 307.5,649.3 308.3,648.8 309.1,646.8 309.9,644.7 310.7,643.4 311.5,643.6 312.3,646.4 313.1,648.2 313.9,648.4 314.7,648.1 315.5,646.9 316.3,647.6 317.1,650.9 317.9,655.2 318.7,659.7 319.5,664.4 320.3,667.3 321.1,666.0 321.9,664.8 322.7,666.1 323.5,669.7 324.3,671.0 325.1,671.2 325.9,673.9 326.7,675.8 327.5,675.7 328.3,676.9 329.1,677.5 329.9,676.7 330.7,677.1 331.5,677.5 332.3,674.5 333.1,670.3 333.9,668.9 334.7,668.1 335.5,665.1 336.3,665.0 337.1,667.7 337.9,667.0 338.7,664.5 339.5,663.3 340.3,663.2 341.1,661.0 341.9,659.0 342.7,658.6 343.5,660.3 344.3,661.2 345.1,660.4 345.9,659.6 346.7,658.3 347.5,655.5 348.3,650.5 349.1,648.2 349.9,652.9 350.7,659.7 351.5,663.8 352.3,663.6 353.1,663.1 353.9,667.7 354.7,669.7 355.5,667.6 356.3,667.0 357.1,667.9 357.9,669.2 358.7,671.2 359.5,672.2 360.3,672.2 361.1,669.0 361.9,667.3 362.7,668.5 363.5,666.9 364.3,662.8 365.1,659.2 365.9,659.2 366.7,661.0 367.5,656.8 368.3,652.5 369.1,653.9 369.9,657.9 370.7,659.0 371.5,657.3 372.3,654.1 373.1,650.3 373.9,649.9 374.7,650.6 375.5,648.0 376.3,645.0 377.1,640.2 377.9,634.0 378.7,632.5 379.5,633.0 380.3,631.1 381.1,627.9 381.9,624.6 382.7,620.2 383.5,617.1 384.3,612.9 385.1,611.3 385.9,614.5 386.7,615.1 387.5,613.6 388.3,614.0 389.1,612.0 389.9,606.7 390.7,606.2 391.5,608.9 392.3,613.6 393.1,617.8 393.9,616.9 394.7,615.8 395.5,619.7 396.3,621.2 397.1,616.1 397.9,614.9 398.7,616.9 399.5,617.0 400.3,616.2 401.1,615.3 401.9,618.2 402.7,621.9 403.5,622.0 404.3,624.5 405.1,629.7 405.9,630.1 406.7,628.6 407.5,629.0 408.3,628.9 409.1,627.5 409.9,628.4 410.7,629.9 411.5,630.1 412.3,630.1 413.1,629.6 413.9,631.8 414.7,634.7 415.5,633.9 416.3,628.7 417.1,626.8 417.9,627.2 418.7,628.5 419.5,632.5 420.3,637.3 421.1,640.9 421.9,641.6 422.7,643.9 423.5,648.7 424.3,646.1 425.1,639.0 425.9,637.2 426.7,640.5 427.5,640.1 428.3,639.1 429.1,641.2 429.9,641.3 430.7,642.0 431.5,644.1 432.3,644.0 433.1,643.2 433.9,643.2 434.7,643.0 435.5,644.9 436.3,648.2 437.1,648.6 437.9,645.9 438.7,646.6 439.5,649.5 440.3,651.6 441.1,657.7 441.9,660.6 442.7,657.7 443.5,655.8 444.3,659.9 445.1,665.2 445.9,667.2 446.7,669.0 447.5,669.4 448.3,667.9 449.1,664.0 449.9,657.6 450.7,654.0 451.5,656.7 452.3,659.5 453.1,659.8 453.9,658.8 454.7,655.6 455.5,653.1 456.3,648.7 457.1,643.2 457.9,641.1 458.7,641.8 459.5,644.3 460.3,644.7 461.1,646.0 461.9,646.6 462.7,643.9 463.5,640.3 464.3,634.9 465.1,630.5 465.9,628.5 466.7,624.1 467.5,621.3 468.3,620.5 469.1,617.4 469.9,614.8 470.7,612.9 471.5,612.1 472.3,607.0 473.1,600.1 473.9,598.7 474.7,601.5 475.5,601.8 476.3,600.3 477.1,600.6 477.9,598.9 478.7,597.1 479.5,597.4 480.3,597.9 481.1,597.4 481.9,594.2 482.7,591.6 483.5,589.7 484.3,588.6 485.1,591.3 485.9,592.8 486.7,594.5 487.5,597.9 488.3,601.1 489.1,599.9 489.9,598.8 490.7,596.1 491.5,594.3 492.3,598.7 493.1,601.6 493.9,603.0 494.7,604.6 495.5,609.4 496.3,614.4 497.1,614.4 497.9,611.6 498.7,611.8 499.5,613.1 500.3,616.8 501.1,619.7 501.9,618.2 502.7,617.0 503.5,621.6 504.3,626.1 505.1,628.5 505.9,630.1 506.7,634.1 507.5,639.3 508.3,638.6 509.1,636.5 509.9,642.0 510.7,647.1 511.5,648.9 512.3,651.3 513.1,653.7 513.9,657.5 514.7,661.7 515.5,665.1 516.3,667.7 517.1,671.0 517.9,675.0 518.7,679.1 519.5,683.0 520.3,686.2 521.1,689.6 521.9,692.9 522.7,696.6 523.5,701.1 524.3,704.0 525.1,706.5 525.9,709.8 526.7,713.7 527.5,718.1 528.3,721.3 529.1,724.3 529.9,727.4 530.7,729.9 531.5,732.8 532.3,737.2 533.1,742.3 533.9,747.3 534.7,752.2 535.5,757.4 536.3,763.1 537.1,767.4 537.9,770.9 538.7,775.9 539.5,782.1 540.3,786.9 541.1,790.5 541.9,795.1 542.7,800.0 543.5,802.6 544.3,804.7 545.1,808.0 545.9,810.8 546.7,813.8 547.5,816.8 548.3,819.9 549.1,824.1 549.9,827.4 550.7,829.0 551.5,829.3 552.3,830.4 553.1,832.5 553.9,835.9 554.7,839.1 555.5,840.0 556.3,837.4 557.1,833.8 557.9,830.5 558.7,827.3 559.5,827.9 560.3,828.7 561.1,825.3 561.9,825.0 562.7,828.3 563.5,830.0 564.3,827.1 565.1,823.5 565.9,824.5 566.7,826.5 567.5,827.5 568.3,826.2 569.1,824.5 569.9,823.3 570.7,821.5 571.5,820.4 572.3,819.1 573.1,813.4 573.9,808.6 574.7,807.1 575.5,806.3 576.3,806.1 577.1,802.7 577.9,796.5 578.7,795.4 579.5,797.1 580.3,796.4 581.1,794.9 581.9,792.8 582.7,790.5 583.5,787.3 584.3,783.4 585.1,779.9 585.9,773.5 586.7,769.9 587.5,767.2 588.3,759.0 589.1,749.2 589.9,745.4 590.7,744.0 591.5,738.9 592.3,731.0 593.1,724.9 593.9,723.3 594.7,723.1 595.5,719.1 596.3,715.2 597.1,712.0 597.9,708.4 598.7,703.4 599.5,700.5 600.3,699.1 601.1,697.5 601.9,694.1 602.7,689.1 603.5,688.0 604.3,687.7 605.1,682.9 605.9,674.9 606.7,668.1 607.5,665.8 608.3,667.2 609.1,668.7 609.9,666.7 610.7,662.9 611.5,658.7 612.3,658.6 613.1,661.5 613.9,661.3 614.7,658.2 615.5,656.7 616.3,655.5 617.1,653.5 617.9,651.3 618.7,648.0 619.5,648.0 620.3,650.3 621.1,651.8 621.9,649.9 622.7,644.7 623.5,639.8 624.3,634.5 625.1,631.3 625.9,631.4 626.7,631.8 627.5,631.5 628.3,633.1 629.1,634.1 629.9,634.4 630.7,636.0 631.5,635.4 632.3,632.5 633.1,629.6 633.9,626.5 634.7,623.5 635.5,621.9 636.3,619.5 637.1,618.7 637.9,617.8 638.7,615.4 639.5,615.0 640.3,614.9 641.1,611.7 641.9,609.4 642.7,610.7 643.5,609.3 644.3,606.8 645.1,606.1 645.9,609.3 646.7,613.4 647.5,614.7 648.3,617.7 649.1,620.6 649.9,621.4 650.7,619.1 651.5,615.6 652.3,613.4 653.1,613.5 653.9,616.4 654.7,618.0 655.5,616.8 656.3,613.5 657.1,611.3 657.9,612.7 658.7,616.8 659.5,620.4 660.3,621.9 661.1,623.2 661.9,624.5 662.7,625.4 663.5,628.8 664.3,631.0 665.1,631.8 665.9,636.1 666.7,639.4 667.5,640.0 668.3,638.6 669.1,636.3 669.9,631.4 670.7,623.5 671.5,621.3 672.3,624.6 673.1,629.6 673.9,628.9 674.7,626.8 675.5,628.0 676.3,631.3 677.1,631.7 677.9,629.9 678.7,629.2 679.5,631.2 680.3,633.9 681.1,634.2 681.9,632.3 682.7,628.9 683.5,627.3 684.3,628.0 685.1,626.5 685.9,624.7 686.7,620.7 687.5,615.1 688.3,613.0 689.1,611.8 689.9,606.7 690.7,605.1 691.5,608.3 692.3,618.1 693.1,626.1 693.9,629.7 694.7,631.2 695.5,635.5 696.3,641.3 697.1,642.9 697.9,642.6 698.7,644.1 699.5,644.9 700.3,643.2 701.1,641.8 701.9,641.9 702.7,642.1 703.5,645.4 704.3,649.1 705.1,649.0 705.9,649.5 706.7,654.4 707.5,659.4 708.3,664.8 709.1,671.0 709.9,675.7 710.7,678.8 711.5,678.4 712.3,683.0 713.1,690.9 713.9,694.8 714.7,689.4 715.5,683.3 716.3,676.5 717.1,673.2 717.9,673.7 718.7,669.5 719.5,661.6 720.3,656.6 721.1,654.3 721.9,659.6 722.7,661.5 723.5,661.6 724.3,666.3 725.1,669.7 725.9,665.3 726.7,659.1 727.5,655.5 728.3,655.8 729.1,657.3 729.9,656.9 730.7,656.8 731.5,652.9 732.3,648.1 733.1,646.9 733.9,646.5 734.7,643.5 735.5,643.7 736.3,646.6 737.1,650.5 737.9,650.1 738.7,652.4 739.5,659.9 740.3,667.7 741.1,670.1 741.9,667.9 742.7,671.4 743.5,676.7 744.3,675.8 745.1,670.2 745.9,667.0 746.7,668.2 747.5,668.6 748.3,664.5 749.1,661.5 749.9,663.6 750.7,665.3 751.5,664.6 752.3,665.4 753.1,665.4 753.9,663.2 754.7,661.3 755.5,662.3 756.3,660.0 757.1,653.2 757.9,646.9 758.7,641.2 759.5,636.9 760.3,630.9 761.1,624.9 761.9,619.6 762.7,616.1 763.5,614.9 764.3,611.0 765.1,606.9 765.9,607.1 766.7,606.1 767.5,603.0 768.3,602.2 769.1,602.0 769.9,598.2 770.7,595.2 771.5,595.6 772.3,597.1 773.1,597.6 773.9,599.9 774.7,602.4 775.5,604.1 776.3,603.7 777.1,600.9 777.9,598.1 778.7,596.9 779.5,597.5 780.3,602.5 781.1,607.2 781.9,613.1 782.7,619.3 783.5,622.5 784.3,624.9 785.1,630.6 785.9,638.9 786.7,643.6 787.5,646.3 788.3,648.7 789.1,652.7 789.9,658.4 790.7,657.7 791.5,653.8 792.3,649.9 793.1,647.1 793.9,644.7 794.7,643.8 795.5,647.2 796.3,652.8 797.1,656.7 797.9,658.2 798.7,657.5 799.5,654.1 800.3,652.6 801.1,650.2 801.9,646.9 802.7,647.7 803.5,649.2 804.3,648.8 805.1,645.8 805.9,642.5 806.7,642.2 807.5,644.7 808.3,646.9 809.1,646.9 809.9,645.8 810.7,645.7 811.5,649.5 812.3,652.0 813.1,653.4 813.9,659.2 814.7,663.8 815.5,664.0 816.3,664.9 817.1,665.8 817.9,666.8 818.7,671.4 819.5,675.9 820.3,674.0 821.1,672.3 821.9,677.3 822.7,678.9 823.5,677.5 824.3,679.9 825.1,681.1 825.9,680.3 826.7,680.4 827.5,678.6 828.3,679.0 829.1,683.2 829.9,686.2 830.7,689.0 831.5,688.6 832.3,684.0 833.1,681.0 833.9,680.7 834.7,680.2 835.5,675.8 836.3,668.9 837.1,664.8 837.9,665.0 838.7,666.7 839.5,664.1 840.3,660.0 841.1,656.0 841.9,652.3 842.7,649.0 843.5,647.0 844.3,646.3 845.1,646.3 845.9,644.7 846.7,643.6 847.5,647.0 848.3,649.6 849.1,646.9 849.9,644.7 850.7,643.5 851.5,638.6 852.3,631.2 853.1,626.7 853.9,631.5 854.7,637.3 855.5,640.0 856.3,642.5 857.1,646.8 857.9,650.0 858.7,650.9 859.5,653.2 860.3,654.4 861.1,653.4 861.9,657.5 862.7,661.1 863.5,658.0 864.3,656.0 865.1,657.3 865.9,660.7 866.7,663.2 867.5,660.1 868.3,654.6 869.1,648.0 869.9,645.0 870.7,646.6 871.5,650.3 872.3,651.9 873.1,653.2 873.9,655.5 874.7,652.3 875.5,644.4 876.3,637.7 877.1,633.6 877.9,630.7 878.7,629.8 879.5,630.6 880.3,629.4 881.1,623.4 881.9,615.8 882.7,614.6 883.5,615.1 884.3,617.4 885.1,621.1 885.9,625.3 886.7,628.3 887.5,631.2 888.3,633.6 889.1,634.4 889.9,637.8 890.7,642.0 891.5,640.1 892.3,633.4 893.1,629.4 893.9,628.3 894.7,628.8 895.5,633.5 896.3,638.9 897.1,643.8 897.9,648.5 898.7,651.5 899.5,652.6 900.3,652.6 901.1,651.6 901.9,653.0 902.7,658.6 903.5,661.0 904.3,659.0 905.1,660.5 905.9,663.1 906.7,663.1 907.5,663.8 908.3,664.6 909.1,662.3 909.9,658.5 910.7,655.8 911.5,655.5 912.3,655.2 913.1,655.2 913.9,655.8 914.7,656.8 915.5,657.2 916.3,657.3 917.1,658.9 917.9,663.3 918.7,664.9 919.5,662.6 920.3,660.8 921.1,659.6 921.9,659.4 922.7,660.5 923.5,658.9 924.3,657.5 925.1,659.6 925.9,661.6 926.7,661.1 927.5,662.2 928.3,662.4 929.1,664.6 929.9,669.8 930.7,677.9 931.5,684.3 932.3,687.1 933.1,688.6 933.9,684.7 934.7,681.3 935.5,683.2 936.3,687.6 937.1,692.1 937.9,691.6 938.7,689.2 939.5,684.6 940.3,679.5 941.1,672.6 941.9,667.2 942.7,664.2 943.5,662.8 944.3,662.9 945.1,664.2 945.9,664.5 946.7,665.5 947.5,663.5 948.3,659.1 949.1,656.2 949.9,653.0 950.7,648.4 951.5,645.9 952.3,644.2 953.1,639.9 953.9,635.0 954.7,633.7 955.5,634.2 956.3,631.5 957.1,629.5 957.9,631.7 958.7,628.9 959.5,623.6 960.3,623.3 961.1,625.0 961.9,625.3 962.7,626.9 963.5,626.9 964.3,625.9 965.1,626.9 965.9,629.0 966.7,631.7 967.5,633.3 968.3,631.2 969.1,628.2 969.9,629.3 970.7,630.8 971.5,627.5 972.3,623.2 973.1,621.5 973.9,621.1 974.7,618.7 975.5,614.4 976.3,611.5 977.1,610.4 977.9,607.1 978.7,608.0 979.5,612.2 980.3,615.6 981.1,617.0 981.9,617.8 982.7,619.0 983.5,621.5 984.3,624.0 985.1,625.7 985.9,628.5 986.7,627.4 987.5,625.4 988.3,625.1 989.1,623.0 989.9,621.7 990.7,622.5 991.5,624.1 992.3,625.1 993.1,622.2 993.9,622.8 994.7,629.1 995.5,636.1 996.3,638.3 997.1,639.9 997.9,645.5 998.7,649.4 999.5,650.9 1000.3,648.3 1001.1,647.5 1001.9,649.9 1002.7,649.9 1003.5,644.9 1004.3,643.0 1005.1,646.0 1005.9,646.1 1006.7,647.3 1007.5,648.3 1008.3,649.8 1009.1,653.4 1009.9,657.6 1010.7,662.0 1011.5,665.0 1012.3,665.8 1013.1,668.1 1013.9,673.7 1014.7,678.5 1015.5,680.0 1016.3,680.5 1017.1,680.5 1017.9,681.3 1018.7,681.5 1019.5,678.6" fill="none" stroke="#ff6060" stroke-opacity=".9" stroke-width="1.8" stroke-linejoin="round"/>
<polygon points="143.5,645.5 143.5,644.2 165.4,644.5 187.3,644.8 209.2,645.1 231.1,645.4 253.0,645.7 274.9,646.0 296.8,646.3 318.7,646.6 340.6,646.9 362.5,647.1 384.4,647.4 406.3,647.7 428.2,648.0 450.1,648.3 472.0,648.6 493.9,649.3 515.8,651.8 537.7,759.0 559.6,862.4 581.5,853.0 603.4,788.3 625.3,725.5 647.2,698.4 669.1,661.5 691.0,635.6 712.9,634.8 734.8,637.3 756.7,638.2 778.6,638.4 800.5,638.2 822.4,637.2 844.3,635.6 866.2,635.4 888.1,636.0 910.0,636.8 931.9,637.4 953.8,637.8 975.7,638.4 997.6,639.3 1019.5,640.4 1019.5,645.5" fill="#5c7ffc" fill-opacity="0.6"/>
<polyline points="143.5,644.2 165.4,644.5 187.3,644.8 209.2,645.1 231.1,645.4 253.0,645.7 274.9,646.0 296.8,646.3 318.7,646.6 340.6,646.9 362.5,647.1 384.4,647.4 406.3,647.7 428.2,648.0 450.1,648.3 472.0,648.6 493.9,649.3 515.8,651.8 537.7,759.0 559.6,862.4 581.5,853.0 603.4,788.3 625.3,725.5 647.2,698.4 669.1,661.5 691.0,635.6 712.9,634.8 734.8,637.3 756.7,638.2 778.6,638.4 800.5,638.2 822.4,637.2 844.3,635.6 866.2,635.4 888.1,636.0 910.0,636.8 931.9,637.4 953.8,637.8 975.7,638.4 997.6,639.3 1019.5,640.4" fill="none" stroke="#5c7ffc" stroke-opacity=".6" stroke-width="4.5" stroke-linejoin="round"/>
<polyline points="143.5,1078.4 165.4,1078.4 187.3,1078.4 209.2,1078.4 231.1,1078.4 253.0,1078.4 274.9,1094.1 296.8,1097.8 318.7,1097.8 340.6,1109.2 362.5,1113.4 384.4,1113.4 406.3,1113.4 428.2,1138.3 450.1,1138.3 472.0,1165.5 493.9,1193.4 515.8,1193.4 537.7,1279.4 559.6,1354.1 581.5,1376.3 603.4,1395.7 625.3,1395.7 647.2,1395.7 669.1,1401.1 691.0,1401.1 712.9,1401.1 734.8,1401.1 756.7,1401.1 778.6,1401.1 800.5,1401.1 822.4,1401.1 844.3,1401.1 866.2,1401.1 888.1,1401.1 910.0,1396.0 931.9,1396.0 953.8,1396.0 975.7,1396.0 997.6,1396.0 1019.5,1396.0" fill="none" stroke="#5c7ffc" stroke-opacity=".6" stroke-width="4.8" stroke-linejoin="round"/>
<polyline points="143.5,1069.0 165.4,1068.4 187.3,1053.6 209.2,1042.8 231.1,1039.4 253.0,1069.0 274.9,1092.6 296.8,1084.1 318.7,1088.4 340.6,1103.2 362.5,1103.5 384.4,1107.7 406.3,1103.0 428.2,1133.0 450.1,1129.9 472.0,1159.8 493.9,1191.1 515.8,1178.3 537.7,1253.2 559.6,1238.1 581.5,1239.0 603.4,1273.7 625.3,1280.0 647.2,1274.6 669.1,1274.4 691.0,1238.1 712.9,1212.8 734.8,1188.9 756.7,1177.7 778.6,1159.0 800.5,1153.8 822.4,1123.9 844.3,1114.1 866.2,1118.0 888.1,1122.9 910.0,1118.0 931.9,1114.1 953.8,1113.4 975.7,1108.8 997.6,1108.8 1019.5,1114.1" fill="none" stroke="#5c7ffc" stroke-opacity=".6" stroke-width="4.8" stroke-dasharray="4.3 4.3" stroke-linejoin="round"/>
<g stroke="#ff6363" stroke-width="1.4" fill="none">
<line x1="143.5" y1="105.4" x2="1019.5" y2="105.4"/>
<line x1="143.5" y1="90.3" x2="143.5" y2="105.4"/>
<line x1="253.0" y1="94.7" x2="253.0" y2="105.4"/>
<line x1="362.5" y1="90.3" x2="362.5" y2="105.4"/>
<line x1="472.0" y1="94.7" x2="472.0" y2="105.4"/>
<line x1="581.5" y1="90.3" x2="581.5" y2="105.4"/>
<line x1="691.0" y1="94.7" x2="691.0" y2="105.4"/>
<line x1="800.5" y1="90.3" x2="800.5" y2="105.4"/>
<line x1="910.0" y1="94.7" x2="910.0" y2="105.4"/>
<line x1="1019.5" y1="90.3" x2="1019.5" y2="105.4"/>
</g>
<g stroke="#6a8df8" stroke-width="1.4" fill="none">
<line x1="143.5" y1="1416.2" x2="1019.5" y2="1416.2"/>
<line x1="242.0" y1="1416.2" x2="242.0" y2="1433.3"/>
<line x1="351.4" y1="1416.2" x2="351.4" y2="1427"/>
<line x1="460.8" y1="1416.2" x2="460.8" y2="1433.3"/>
<line x1="570.2" y1="1416.2" x2="570.2" y2="1427"/>
<line x1="679.6" y1="1416.2" x2="679.6" y2="1433.3"/>
<line x1="789.0" y1="1416.2" x2="789.0" y2="1427"/>
<line x1="898.4" y1="1416.2" x2="898.4" y2="1433.3"/>
<line x1="1007.8" y1="1416.2" x2="1007.8" y2="1427"/>
</g>
<g stroke="#000" stroke-width="1.5" fill="none">
<line x1="143.3" y1="105.4" x2="143.3" y2="537.5"/>
<line x1="1019.5" y1="105.4" x2="1019.5" y2="537.5"/>
<line x1="143.3" y1="564.8" x2="143.3" y2="969.9"/>
<line x1="1019.5" y1="564.8" x2="1019.5" y2="969.9"/>
<line x1="143.3" y1="997" x2="143.3" y2="1416.2"/>
<line x1="1019.5" y1="997" x2="1019.5" y2="1416.2"/>
</g>
<g stroke="#000" stroke-width="1.25" fill="none">
<line x1="128.2" y1="105.5" x2="144" y2="105.5"/>
<line x1="128.2" y1="199.5" x2="144" y2="199.5"/>
<line x1="128.2" y1="293.5" x2="144" y2="293.5"/>
<line x1="128.2" y1="387.5" x2="144" y2="387.5"/>
<line x1="128.2" y1="481.5" x2="144" y2="481.5"/>
<line x1="128.2" y1="564.8" x2="144" y2="564.8"/>
<line x1="128.2" y1="645.8" x2="144" y2="645.8"/>
<line x1="128.2" y1="726.8" x2="144" y2="726.8"/>
<line x1="128.2" y1="807.8" x2="144" y2="807.8"/>
<line x1="128.2" y1="888.9" x2="144" y2="888.9"/>
<line x1="128.2" y1="969.9" x2="144" y2="969.9"/>
<line x1="128.2" y1="1029.2" x2="144" y2="1029.2"/>
<line x1="128.2" y1="1093.7" x2="144" y2="1093.7"/>
<line x1="128.2" y1="1158.2" x2="144" y2="1158.2"/>
<line x1="128.2" y1="1222.7" x2="144" y2="1222.7"/>
<line x1="128.2" y1="1287.2" x2="144" y2="1287.2"/>
<line x1="128.2" y1="1351.7" x2="144" y2="1351.7"/>
<line x1="128.2" y1="1416.2" x2="144" y2="1416.2"/>
</g>
<text transform="translate(332.03 22.60) scale(1.0185 1)" font-size="27" fill="#ff6363" letter-spacing="0.419">Skytrain ice core chronology (years BP)</text>
<text transform="translate(102.58 75.30) scale(1.0424 1)" font-size="23.3" fill="#ff6363" letter-spacing="1.035">10,000</text>
<text transform="translate(328.24 75.30) scale(1.0607 1)" font-size="23.3" fill="#ff6363" letter-spacing="1.494">9,000</text>
<text transform="translate(547.64 75.30) scale(1.0576 1)" font-size="23.3" fill="#ff6363" letter-spacing="1.421">8,000</text>
<text transform="translate(767.00 75.30) scale(1.0437 1)" font-size="23.3" fill="#ff6363" letter-spacing="1.090">7,000</text>
<text transform="translate(985.49 75.30) scale(1.0487 1)" font-size="23.3" fill="#ff6363" letter-spacing="1.209">6,000</text>
<text transform="translate(48.98 112.40) scale(1.0525 1)" font-size="23.3" fill="#000" letter-spacing="1.297">2,000</text>
<text transform="translate(53.51 204.10) scale(1.0246 1)" font-size="23.3" fill="#000" letter-spacing="0.619">1,500</text>
<text transform="translate(51.59 295.70) scale(1.0359 1)" font-size="23.3" fill="#000" letter-spacing="0.894">1,000</text>
<text transform="translate(71.35 387.30) scale(1.0520 1)" font-size="23.3" fill="#000" letter-spacing="1.699">500</text>
<text transform="translate(101.30 479.80) scale(1.2000 1)" font-size="23.3" fill="#000">0</text>
<text transform="translate(105.70 572.08) scale(0.8600 1)" font-size="23.3" fill="#000">1</text>
<text transform="translate(100.96 653.10) scale(1.2364 1)" font-size="23.3" fill="#000">0</text>
<text transform="translate(95.24 734.12) scale(0.9300 1)" font-size="23.3" fill="#000" letter-spacing="-3.390">−1</text>
<text transform="translate(91.78 815.14) scale(0.9791 1)" font-size="23.3" fill="#000" letter-spacing="-0.963">−2</text>
<text transform="translate(90.86 896.16) scale(0.9921 1)" font-size="23.3" fill="#000" letter-spacing="-0.360">−3</text>
<text transform="translate(90.26 977.18) scale(0.9936 1)" font-size="23.3" fill="#000" letter-spacing="-0.294">−4</text>
<text transform="translate(55.32 1036.30) scale(1.0158 1)" font-size="23.3" fill="#000" letter-spacing="0.400">1,200</text>
<text transform="translate(52.39 1100.80) scale(1.0341 1)" font-size="23.3" fill="#000" letter-spacing="0.849">1,000</text>
<text transform="translate(71.35 1165.30) scale(1.0539 1)" font-size="23.3" fill="#000" letter-spacing="1.758">800</text>
<text transform="translate(70.78 1229.80) scale(1.0595 1)" font-size="23.3" fill="#000" letter-spacing="1.917">600</text>
<text transform="translate(71.57 1294.30) scale(1.0541 1)" font-size="23.3" fill="#000" letter-spacing="1.788">400</text>
<text transform="translate(71.38 1358.80) scale(1.0586 1)" font-size="23.3" fill="#000" letter-spacing="1.888">200</text>
<text transform="translate(101.28 1423.30) scale(1.2182 1)" font-size="23.3" fill="#000">0</text>
<text transform="translate(206.70 1462.80) scale(1.0307 1)" font-size="23.3" fill="#6a8df8" letter-spacing="0.757">14,000</text>
<text transform="translate(425.39 1462.80) scale(1.0358 1)" font-size="23.3" fill="#6a8df8" letter-spacing="0.879">13,000</text>
<text transform="translate(645.01 1462.80) scale(1.0255 1)" font-size="23.3" fill="#6a8df8" letter-spacing="0.634">12,000</text>
<text transform="translate(861.72 1462.80) scale(1.0170 1)" font-size="23.3" fill="#6a8df8" letter-spacing="0.415">11,000</text>
<text transform="translate(384.93 1510.60) scale(1.0096 1)" font-size="27" fill="#6a8df8" letter-spacing="0.230">PISM simulated time (years BP)</text>
<text transform="translate(229.22 180.50) scale(1.0239 1)" font-size="27" fill="#6a8df8" letter-spacing="0.557" fill-opacity="0.64">Surface elevation</text>
<text transform="translate(209.09 498.90) scale(1.0250 1)" font-size="27" fill="#6a8df8" letter-spacing="0.596" fill-opacity="0.64">Bedrock elevation</text>
<text transform="translate(752.32 308.80) scale(1.0206 1)" font-size="27" fill="#ff6363" letter-spacing="0.478" fill-opacity="0.6">Skytrain isotopes</text>
<text transform="translate(805.43 1073.60) scale(1.0262 1)" font-size="27" fill="#6a8df8" letter-spacing="0.599" fill-opacity="0.64">Ice shelf edge</text>
<text transform="translate(812.91 1363.60) scale(1.0304 1)" font-size="27" fill="#6a8df8" letter-spacing="0.730" fill-opacity="0.64">Grounding line</text>
<text transform="translate(159.10 146.00) scale(1.0000 1)" font-size="36.5" fill="#000" font-weight="700" stroke="#000" stroke-width="1.2">a</text>
<text transform="translate(160.73 589.60) scale(1.1077 1)" font-size="38.5" fill="#000" font-weight="700" stroke="#000" stroke-width="1.2">b</text>
<text transform="translate(162.92 1022.30) scale(1.1211 1)" font-size="36.5" fill="#000" font-weight="700" stroke="#000" stroke-width="1.2">c</text>
<text transform="translate(22.70 456.57) rotate(-90) scale(1.0188 1)" font-size="27" fill="#000" letter-spacing="0.435">Surface elevation (m)</text>
<text transform="translate(23.70 924.59) rotate(-90) scale(1.0192 1)" font-size="27" fill="#000" letter-spacing="0.429">Rate of surface elevation</text>
<text transform="translate(55.80 893.27) rotate(-90) scale(1.0157 1)" font-size="27" fill="#000" letter-spacing="0.382">change (m per year)</text>
<text transform="translate(23.20 1382.69) rotate(-90) scale(1.0194 1)" font-size="27" fill="#000" letter-spacing="0.446">Distance from Skytrain (km)</text>
</svg></body></html>
